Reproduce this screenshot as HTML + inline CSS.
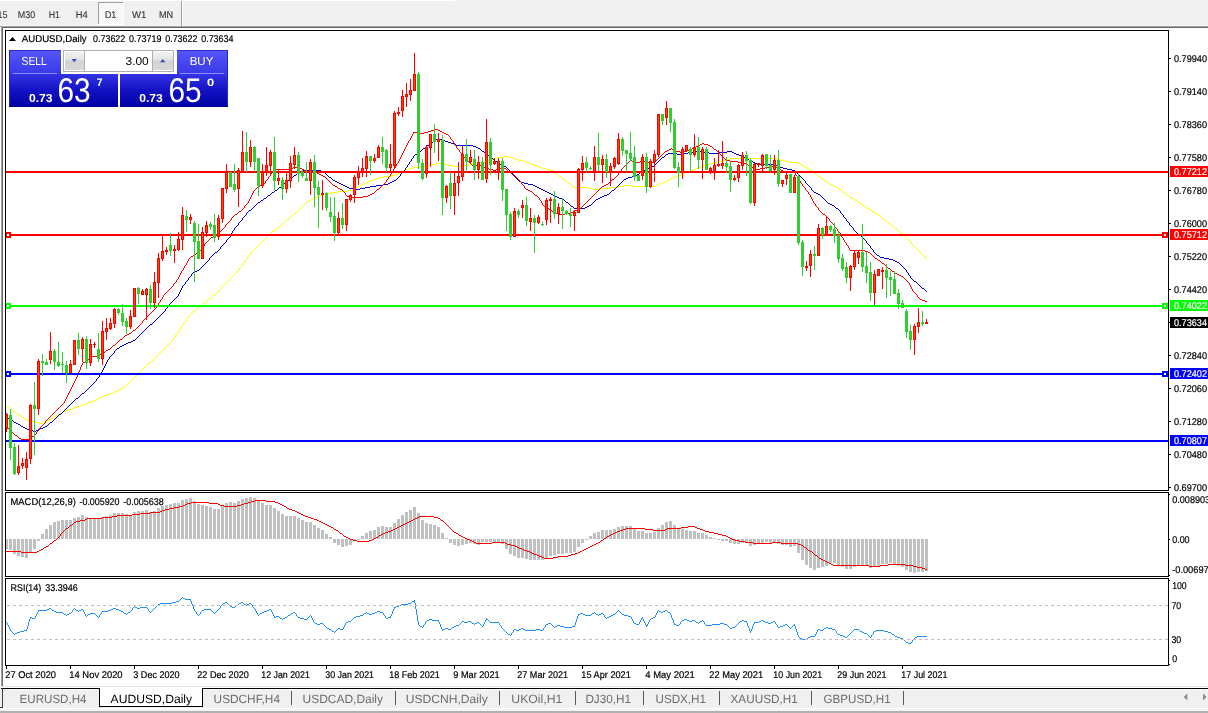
<!DOCTYPE html>
<html lang="en"><head><meta charset="utf-8"><title>AUDUSD,Daily</title>
<style>
html,body{margin:0;padding:0;}
body{width:1208px;height:713px;overflow:hidden;background:#f0f0f0;font-family:"Liberation Sans",sans-serif;position:relative;}
#toolbar{position:absolute;left:0;top:0;width:1208px;height:26px;background:#f0f0f0;}
#mdi{position:absolute;left:0;top:26px;width:1208px;height:662px;background:#fff;}
#tabs{position:absolute;left:0;top:688px;width:1208px;height:25px;background:#f0f0f0;}
#ui{position:absolute;left:0;top:0;width:1208px;height:713px;}
#ui text{font-family:"Liberation Sans",sans-serif;text-rendering:geometricPrecision;}
</style></head><body>
<div id="toolbar"></div>
<div id="mdi"></div>
<div id="tabs"></div>
<svg id="ui" width="1208" height="713" viewBox="0 0 1208 713">
<defs>
<linearGradient id="gb" x1="0" y1="0" x2="0" y2="1"><stop offset="0" stop-color="#5656fc"/><stop offset="1" stop-color="#3838e6"/></linearGradient>
<linearGradient id="gp" x1="0" y1="0" x2="0" y2="1"><stop offset="0" stop-color="#3434e4"/><stop offset="0.5" stop-color="#1212c4"/><stop offset="1" stop-color="#0000a4"/></linearGradient>
<linearGradient id="gs" x1="0" y1="0" x2="0" y2="1"><stop offset="0" stop-color="#f2f2f2"/><stop offset="0.45" stop-color="#e2e2e2"/><stop offset="0.5" stop-color="#d2d2d2"/><stop offset="1" stop-color="#d8d8d8"/></linearGradient>
<pattern id="chk" width="2" height="2" patternUnits="userSpaceOnUse"><rect width="2" height="2" fill="#fff"/><rect width="1" height="1" fill="#f0f0f0"/><rect x="1" y="1" width="1" height="1" fill="#f0f0f0"/></pattern>
</defs>
<g id="tb" shape-rendering="crispEdges"><rect x="0" y="0" width="455" height="1" fill="#fff"/><rect x="0" y="25" width="1208" height="1" fill="#f7f7f7"/><rect x="98" y="2" width="25" height="22" fill="url(#chk)"/><rect x="98" y="2" width="25" height="1" fill="#a0a0a0"/><rect x="98" y="2" width="1" height="22" fill="#a0a0a0"/><rect x="123" y="2" width="1" height="23" fill="#fff"/><rect x="98" y="24" width="26" height="1" fill="#fff"/><rect x="181" y="1" width="1" height="25" fill="#a0a0a0"/><rect x="182" y="1" width="1" height="25" fill="#fff"/></g>
<g id="tbt" stroke="#3a3a3a" stroke-width="0.15"><text x="-10" y="18" font-size="9.8" fill="#3a3a3a" textLength="17.6" lengthAdjust="spacingAndGlyphs">M15</text><text x="17.8" y="18" font-size="9.8" fill="#3a3a3a" textLength="17.4" lengthAdjust="spacingAndGlyphs">M30</text><text x="48.8" y="18" font-size="9.8" fill="#3a3a3a" textLength="11.2" lengthAdjust="spacingAndGlyphs">H1</text><text x="75.7" y="18" font-size="9.8" fill="#3a3a3a" textLength="12" lengthAdjust="spacingAndGlyphs">H4</text><text x="104.9" y="18" font-size="9.8" fill="#3a3a3a" textLength="11.4" lengthAdjust="spacingAndGlyphs">D1</text><text x="132" y="18" font-size="9.8" fill="#3a3a3a" textLength="14.3" lengthAdjust="spacingAndGlyphs">W1</text><text x="158.9" y="18" font-size="9.8" fill="#3a3a3a" textLength="14.3" lengthAdjust="spacingAndGlyphs">MN</text></g>
<g id="frame" shape-rendering="crispEdges"><rect x="0" y="26" width="1208" height="1" fill="#a0a0a0"/><rect x="1" y="27" width="1207" height="1" fill="#696969"/><rect x="0" y="27" width="1" height="660" fill="#fff"/><rect x="1" y="27" width="1" height="659" fill="#a0a0a0"/><rect x="2" y="28" width="1" height="658" fill="#696969"/><rect x="0" y="686" width="1208" height="1" fill="#e6e6e6"/><rect x="0" y="687" width="1208" height="1" fill="#fff"/></g>
<g shape-rendering="crispEdges"><rect x="6" y="539" width="2" height="10" fill="#c0c0c0"/><rect x="9" y="539" width="3" height="11" fill="#c0c0c0"/><rect x="13" y="539" width="3" height="15" fill="#c0c0c0"/><rect x="17" y="539" width="3" height="17" fill="#c0c0c0"/><rect x="21" y="539" width="3" height="18" fill="#c0c0c0"/><rect x="25" y="539" width="3" height="19" fill="#c0c0c0"/><rect x="29" y="539" width="3" height="13" fill="#c0c0c0"/><rect x="33" y="539" width="3" height="10" fill="#c0c0c0"/><rect x="37" y="539" width="3" height="2" fill="#c0c0c0"/><rect x="41" y="534" width="3" height="5" fill="#c0c0c0"/><rect x="45" y="529" width="3" height="10" fill="#c0c0c0"/><rect x="49" y="525" width="3" height="14" fill="#c0c0c0"/><rect x="53" y="522" width="3" height="17" fill="#c0c0c0"/><rect x="57" y="521" width="3" height="18" fill="#c0c0c0"/><rect x="61" y="520" width="3" height="19" fill="#c0c0c0"/><rect x="65" y="520" width="3" height="19" fill="#c0c0c0"/><rect x="69" y="520" width="3" height="19" fill="#c0c0c0"/><rect x="73" y="518" width="3" height="21" fill="#c0c0c0"/><rect x="77" y="517" width="3" height="22" fill="#c0c0c0"/><rect x="81" y="515" width="3" height="24" fill="#c0c0c0"/><rect x="85" y="517" width="3" height="22" fill="#c0c0c0"/><rect x="89" y="518" width="3" height="21" fill="#c0c0c0"/><rect x="93" y="518" width="3" height="21" fill="#c0c0c0"/><rect x="97" y="518" width="3" height="21" fill="#c0c0c0"/><rect x="101" y="517" width="3" height="22" fill="#c0c0c0"/><rect x="105" y="516" width="3" height="23" fill="#c0c0c0"/><rect x="109" y="515" width="3" height="24" fill="#c0c0c0"/><rect x="113" y="513" width="3" height="26" fill="#c0c0c0"/><rect x="117" y="513" width="3" height="26" fill="#c0c0c0"/><rect x="121" y="513" width="3" height="26" fill="#c0c0c0"/><rect x="125" y="514" width="3" height="25" fill="#c0c0c0"/><rect x="129" y="515" width="3" height="24" fill="#c0c0c0"/><rect x="133" y="512" width="3" height="27" fill="#c0c0c0"/><rect x="137" y="511" width="3" height="28" fill="#c0c0c0"/><rect x="141" y="511" width="3" height="28" fill="#c0c0c0"/><rect x="145" y="510" width="3" height="29" fill="#c0c0c0"/><rect x="149" y="512" width="3" height="27" fill="#c0c0c0"/><rect x="153" y="511" width="3" height="28" fill="#c0c0c0"/><rect x="157" y="508" width="3" height="31" fill="#c0c0c0"/><rect x="161" y="506" width="3" height="33" fill="#c0c0c0"/><rect x="165" y="505" width="3" height="34" fill="#c0c0c0"/><rect x="169" y="504" width="3" height="35" fill="#c0c0c0"/><rect x="173" y="503" width="3" height="36" fill="#c0c0c0"/><rect x="177" y="503" width="3" height="36" fill="#c0c0c0"/><rect x="181" y="500" width="3" height="39" fill="#c0c0c0"/><rect x="185" y="499" width="3" height="40" fill="#c0c0c0"/><rect x="189" y="498" width="3" height="41" fill="#c0c0c0"/><rect x="193" y="501" width="3" height="38" fill="#c0c0c0"/><rect x="197" y="504" width="3" height="35" fill="#c0c0c0"/><rect x="201" y="505" width="3" height="34" fill="#c0c0c0"/><rect x="205" y="506" width="3" height="33" fill="#c0c0c0"/><rect x="209" y="507" width="3" height="32" fill="#c0c0c0"/><rect x="213" y="509" width="3" height="30" fill="#c0c0c0"/><rect x="217" y="509" width="3" height="30" fill="#c0c0c0"/><rect x="221" y="506" width="3" height="33" fill="#c0c0c0"/><rect x="225" y="503" width="3" height="36" fill="#c0c0c0"/><rect x="229" y="502" width="3" height="37" fill="#c0c0c0"/><rect x="233" y="503" width="3" height="36" fill="#c0c0c0"/><rect x="237" y="501" width="3" height="38" fill="#c0c0c0"/><rect x="241" y="499" width="3" height="40" fill="#c0c0c0"/><rect x="245" y="498" width="3" height="41" fill="#c0c0c0"/><rect x="249" y="497" width="3" height="42" fill="#c0c0c0"/><rect x="253" y="498" width="3" height="41" fill="#c0c0c0"/><rect x="257" y="500" width="3" height="39" fill="#c0c0c0"/><rect x="261" y="503" width="3" height="36" fill="#c0c0c0"/><rect x="265" y="505" width="3" height="34" fill="#c0c0c0"/><rect x="269" y="505" width="3" height="34" fill="#c0c0c0"/><rect x="273" y="508" width="3" height="31" fill="#c0c0c0"/><rect x="277" y="511" width="3" height="28" fill="#c0c0c0"/><rect x="281" y="514" width="3" height="25" fill="#c0c0c0"/><rect x="285" y="516" width="3" height="23" fill="#c0c0c0"/><rect x="289" y="516" width="3" height="23" fill="#c0c0c0"/><rect x="293" y="516" width="3" height="23" fill="#c0c0c0"/><rect x="297" y="518" width="3" height="21" fill="#c0c0c0"/><rect x="301" y="520" width="3" height="19" fill="#c0c0c0"/><rect x="305" y="522" width="3" height="17" fill="#c0c0c0"/><rect x="309" y="522" width="3" height="17" fill="#c0c0c0"/><rect x="313" y="525" width="3" height="14" fill="#c0c0c0"/><rect x="317" y="528" width="3" height="11" fill="#c0c0c0"/><rect x="321" y="530" width="3" height="9" fill="#c0c0c0"/><rect x="325" y="534" width="3" height="5" fill="#c0c0c0"/><rect x="329" y="537" width="3" height="2" fill="#c0c0c0"/><rect x="333" y="539" width="3" height="4" fill="#c0c0c0"/><rect x="337" y="539" width="3" height="6" fill="#c0c0c0"/><rect x="341" y="539" width="3" height="8" fill="#c0c0c0"/><rect x="345" y="539" width="3" height="7" fill="#c0c0c0"/><rect x="349" y="539" width="3" height="6" fill="#c0c0c0"/><rect x="353" y="539" width="3" height="2" fill="#c0c0c0"/><rect x="357" y="539" width="3" height="1" fill="#c0c0c0"/><rect x="361" y="536" width="3" height="3" fill="#c0c0c0"/><rect x="365" y="533" width="3" height="6" fill="#c0c0c0"/><rect x="369" y="531" width="3" height="8" fill="#c0c0c0"/><rect x="373" y="530" width="3" height="9" fill="#c0c0c0"/><rect x="377" y="527" width="3" height="12" fill="#c0c0c0"/><rect x="381" y="526" width="3" height="13" fill="#c0c0c0"/><rect x="385" y="527" width="3" height="12" fill="#c0c0c0"/><rect x="389" y="527" width="3" height="12" fill="#c0c0c0"/><rect x="393" y="523" width="3" height="16" fill="#c0c0c0"/><rect x="397" y="519" width="3" height="20" fill="#c0c0c0"/><rect x="401" y="515" width="3" height="24" fill="#c0c0c0"/><rect x="405" y="512" width="3" height="27" fill="#c0c0c0"/><rect x="409" y="510" width="3" height="29" fill="#c0c0c0"/><rect x="413" y="507" width="3" height="32" fill="#c0c0c0"/><rect x="417" y="513" width="3" height="26" fill="#c0c0c0"/><rect x="421" y="520" width="3" height="19" fill="#c0c0c0"/><rect x="425" y="523" width="3" height="16" fill="#c0c0c0"/><rect x="429" y="524" width="3" height="15" fill="#c0c0c0"/><rect x="433" y="525" width="3" height="14" fill="#c0c0c0"/><rect x="437" y="527" width="3" height="12" fill="#c0c0c0"/><rect x="441" y="533" width="3" height="6" fill="#c0c0c0"/><rect x="445" y="538" width="3" height="1" fill="#c0c0c0"/><rect x="449" y="539" width="3" height="4" fill="#c0c0c0"/><rect x="453" y="539" width="3" height="6" fill="#c0c0c0"/><rect x="457" y="539" width="3" height="7" fill="#c0c0c0"/><rect x="461" y="539" width="3" height="6" fill="#c0c0c0"/><rect x="465" y="539" width="3" height="5" fill="#c0c0c0"/><rect x="469" y="539" width="3" height="4" fill="#c0c0c0"/><rect x="473" y="539" width="3" height="5" fill="#c0c0c0"/><rect x="477" y="539" width="3" height="6" fill="#c0c0c0"/><rect x="481" y="539" width="3" height="3" fill="#c0c0c0"/><rect x="485" y="539" width="3" height="3" fill="#c0c0c0"/><rect x="489" y="539" width="3" height="3" fill="#c0c0c0"/><rect x="493" y="539" width="3" height="3" fill="#c0c0c0"/><rect x="497" y="539" width="3" height="3" fill="#c0c0c0"/><rect x="501" y="539" width="3" height="5" fill="#c0c0c0"/><rect x="505" y="539" width="3" height="10" fill="#c0c0c0"/><rect x="509" y="539" width="3" height="15" fill="#c0c0c0"/><rect x="513" y="539" width="3" height="17" fill="#c0c0c0"/><rect x="517" y="539" width="3" height="19" fill="#c0c0c0"/><rect x="521" y="539" width="3" height="19" fill="#c0c0c0"/><rect x="525" y="539" width="3" height="20" fill="#c0c0c0"/><rect x="529" y="539" width="3" height="21" fill="#c0c0c0"/><rect x="533" y="539" width="3" height="21" fill="#c0c0c0"/><rect x="537" y="539" width="3" height="21" fill="#c0c0c0"/><rect x="541" y="539" width="3" height="21" fill="#c0c0c0"/><rect x="545" y="539" width="3" height="20" fill="#c0c0c0"/><rect x="549" y="539" width="3" height="17" fill="#c0c0c0"/><rect x="553" y="539" width="3" height="16" fill="#c0c0c0"/><rect x="557" y="539" width="3" height="15" fill="#c0c0c0"/><rect x="561" y="539" width="3" height="15" fill="#c0c0c0"/><rect x="565" y="539" width="3" height="14" fill="#c0c0c0"/><rect x="569" y="539" width="3" height="14" fill="#c0c0c0"/><rect x="573" y="539" width="3" height="13" fill="#c0c0c0"/><rect x="577" y="539" width="3" height="8" fill="#c0c0c0"/><rect x="581" y="539" width="3" height="4" fill="#c0c0c0"/><rect x="585" y="539" width="3" height="1" fill="#c0c0c0"/><rect x="589" y="536" width="3" height="3" fill="#c0c0c0"/><rect x="593" y="533" width="3" height="6" fill="#c0c0c0"/><rect x="597" y="532" width="3" height="7" fill="#c0c0c0"/><rect x="601" y="530" width="3" height="9" fill="#c0c0c0"/><rect x="605" y="530" width="3" height="9" fill="#c0c0c0"/><rect x="609" y="530" width="3" height="9" fill="#c0c0c0"/><rect x="613" y="529" width="3" height="10" fill="#c0c0c0"/><rect x="617" y="527" width="3" height="12" fill="#c0c0c0"/><rect x="621" y="526" width="3" height="13" fill="#c0c0c0"/><rect x="625" y="526" width="3" height="13" fill="#c0c0c0"/><rect x="629" y="526" width="3" height="13" fill="#c0c0c0"/><rect x="633" y="529" width="3" height="10" fill="#c0c0c0"/><rect x="637" y="531" width="3" height="8" fill="#c0c0c0"/><rect x="641" y="531" width="3" height="8" fill="#c0c0c0"/><rect x="645" y="533" width="3" height="6" fill="#c0c0c0"/><rect x="649" y="533" width="3" height="6" fill="#c0c0c0"/><rect x="653" y="532" width="3" height="7" fill="#c0c0c0"/><rect x="657" y="528" width="3" height="11" fill="#c0c0c0"/><rect x="661" y="525" width="3" height="14" fill="#c0c0c0"/><rect x="665" y="522" width="3" height="17" fill="#c0c0c0"/><rect x="669" y="521" width="3" height="18" fill="#c0c0c0"/><rect x="673" y="525" width="3" height="14" fill="#c0c0c0"/><rect x="677" y="528" width="3" height="11" fill="#c0c0c0"/><rect x="681" y="529" width="3" height="10" fill="#c0c0c0"/><rect x="685" y="530" width="3" height="9" fill="#c0c0c0"/><rect x="689" y="531" width="3" height="8" fill="#c0c0c0"/><rect x="693" y="531" width="3" height="8" fill="#c0c0c0"/><rect x="697" y="533" width="3" height="6" fill="#c0c0c0"/><rect x="701" y="533" width="3" height="6" fill="#c0c0c0"/><rect x="705" y="535" width="3" height="4" fill="#c0c0c0"/><rect x="709" y="537" width="3" height="2" fill="#c0c0c0"/><rect x="713" y="538" width="3" height="1" fill="#c0c0c0"/><rect x="717" y="539" width="3" height="1" fill="#c0c0c0"/><rect x="721" y="539" width="3" height="2" fill="#c0c0c0"/><rect x="725" y="539" width="3" height="2" fill="#c0c0c0"/><rect x="729" y="539" width="3" height="4" fill="#c0c0c0"/><rect x="733" y="539" width="3" height="5" fill="#c0c0c0"/><rect x="737" y="539" width="3" height="5" fill="#c0c0c0"/><rect x="741" y="539" width="3" height="4" fill="#c0c0c0"/><rect x="745" y="539" width="3" height="3" fill="#c0c0c0"/><rect x="749" y="539" width="3" height="7" fill="#c0c0c0"/><rect x="753" y="539" width="3" height="6" fill="#c0c0c0"/><rect x="757" y="539" width="3" height="4" fill="#c0c0c0"/><rect x="761" y="539" width="3" height="4" fill="#c0c0c0"/><rect x="765" y="539" width="3" height="3" fill="#c0c0c0"/><rect x="769" y="539" width="3" height="4" fill="#c0c0c0"/><rect x="773" y="539" width="3" height="4" fill="#c0c0c0"/><rect x="777" y="539" width="3" height="5" fill="#c0c0c0"/><rect x="781" y="539" width="3" height="6" fill="#c0c0c0"/><rect x="785" y="539" width="3" height="6" fill="#c0c0c0"/><rect x="789" y="539" width="3" height="8" fill="#c0c0c0"/><rect x="793" y="539" width="3" height="7" fill="#c0c0c0"/><rect x="797" y="539" width="3" height="14" fill="#c0c0c0"/><rect x="801" y="539" width="3" height="21" fill="#c0c0c0"/><rect x="805" y="539" width="3" height="26" fill="#c0c0c0"/><rect x="809" y="539" width="3" height="29" fill="#c0c0c0"/><rect x="813" y="539" width="3" height="31" fill="#c0c0c0"/><rect x="817" y="539" width="3" height="29" fill="#c0c0c0"/><rect x="821" y="539" width="3" height="28" fill="#c0c0c0"/><rect x="825" y="539" width="3" height="27" fill="#c0c0c0"/><rect x="829" y="539" width="3" height="24" fill="#c0c0c0"/><rect x="833" y="539" width="3" height="24" fill="#c0c0c0"/><rect x="837" y="539" width="3" height="27" fill="#c0c0c0"/><rect x="841" y="539" width="3" height="28" fill="#c0c0c0"/><rect x="845" y="539" width="3" height="30" fill="#c0c0c0"/><rect x="849" y="539" width="3" height="30" fill="#c0c0c0"/><rect x="853" y="539" width="3" height="28" fill="#c0c0c0"/><rect x="857" y="539" width="3" height="27" fill="#c0c0c0"/><rect x="861" y="539" width="3" height="27" fill="#c0c0c0"/><rect x="865" y="539" width="3" height="27" fill="#c0c0c0"/><rect x="869" y="539" width="3" height="29" fill="#c0c0c0"/><rect x="873" y="539" width="3" height="28" fill="#c0c0c0"/><rect x="877" y="539" width="3" height="28" fill="#c0c0c0"/><rect x="881" y="539" width="3" height="25" fill="#c0c0c0"/><rect x="885" y="539" width="3" height="25" fill="#c0c0c0"/><rect x="889" y="539" width="3" height="24" fill="#c0c0c0"/><rect x="893" y="539" width="3" height="25" fill="#c0c0c0"/><rect x="897" y="539" width="3" height="27" fill="#c0c0c0"/><rect x="901" y="539" width="3" height="28" fill="#c0c0c0"/><rect x="905" y="539" width="3" height="31" fill="#c0c0c0"/><rect x="909" y="539" width="3" height="33" fill="#c0c0c0"/><rect x="913" y="539" width="3" height="34" fill="#c0c0c0"/><rect x="917" y="539" width="3" height="33" fill="#c0c0c0"/><rect x="921" y="539" width="3" height="33" fill="#c0c0c0"/><rect x="925" y="539" width="3" height="32" fill="#c0c0c0"/></g>
<path d="M504 156.5h5M497 157.5h7M509 157.5h4M493 158.5h4M513 158.5h3M730 158.5h47M490 159.5h3M516 159.5h3M726 159.5h4M777 159.5h4M488 160.5h2M519 160.5h4M722 160.5h4M781 160.5h4M485 161.5h3M523 161.5h3M718 161.5h4M785 161.5h4M473 162.5h12M526 162.5h3M714 162.5h4M789 162.5h9M436 163.5h6M471 163.5h2M529 163.5h2M710 163.5h4M798 163.5h2M431 164.5h5M442 164.5h5M469 164.5h2M531 164.5h3M707 164.5h3M800 164.5h2M427 165.5h4M447 165.5h7M463 165.5h6M534 165.5h3M704 165.5h3M802 165.5h2M419 166.5h8M454 166.5h9M537 166.5h2M701 166.5h3M804 166.5h1M413 167.5h6M539 167.5h3M699 167.5h2M805 167.5h2M409 168.5h4M542 168.5h4M696 168.5h3M807 168.5h1M406 169.5h3M546 169.5h4M694 169.5h2M808 169.5h2M404 170.5h2M550 170.5h3M691 170.5h3M810 170.5h2M402 171.5h2M553 171.5h1M688 171.5h3M812 171.5h1M400 172.5h2M554 172.5h2M686 172.5h2M813 172.5h1M398 173.5h2M556 173.5h1M683 173.5h3M814 173.5h2M395 174.5h3M557 174.5h1M681 174.5h2M816 174.5h1M391 175.5h4M558 175.5h1M678 175.5h3M817 175.5h1M384 176.5h7M559 176.5h2M676 176.5h2M818 176.5h2M379 177.5h5M561 177.5h1M673 177.5h3M820 177.5h1M376 178.5h3M562 178.5h1M671 178.5h2M821 178.5h2M373 179.5h3M563 179.5h2M669 179.5h2M823 179.5h1M370 180.5h3M565 180.5h1M667 180.5h2M824 180.5h2M368 181.5h2M566 181.5h1M665 181.5h2M826 181.5h1M366 182.5h2M567 182.5h1M662 182.5h3M827 182.5h2M364 183.5h2M568 183.5h2M660 183.5h2M829 183.5h1M362 184.5h2M570 184.5h1M658 184.5h2M830 184.5h2M360 185.5h2M571 185.5h1M624 185.5h7M656 185.5h2M832 185.5h2M358 186.5h2M572 186.5h2M618 186.5h6M631 186.5h25M834 186.5h2M356 187.5h2M574 187.5h15M610 187.5h8M836 187.5h2M355 188.5h1M589 188.5h4M599 188.5h11M838 188.5h1M353 189.5h2M593 189.5h6M839 189.5h2M348 190.5h5M841 190.5h1M338 191.5h10M842 191.5h1M330 192.5h8M843 192.5h2M326 193.5h4M845 193.5h1M323 194.5h3M846 194.5h1M320 195.5h3M847 195.5h2M318 196.5h2M849 196.5h1M315 197.5h3M850 197.5h2M313 198.5h2M852 198.5h2M311 199.5h2M854 199.5h1M309 200.5h2M855 200.5h2M307 201.5h2M857 201.5h1M306 202.5h1M858 202.5h2M305 203.5h1M860 203.5h1M304 204.5h1M861 204.5h2M303 205.5h1M863 205.5h1M302 206.5h1M864 206.5h2M301 207.5h1M866 207.5h1M300 208.5h1M867 208.5h2M299 209.5h1M869 209.5h2M298 210.5h1M871 210.5h1M297 211.5h1M872 211.5h2M296 212.5h1M874 212.5h1M294 213.5h2M875 213.5h2M293 214.5h1M877 214.5h2M292 215.5h1M879 215.5h1M291 216.5h1M880 216.5h1M290 217.5h1M881 217.5h1M289 218.5h1M882 218.5h2M287 219.5h2M884 219.5h1M286 220.5h1M885 220.5h1M285 221.5h1M886 221.5h1M284 222.5h1M887 222.5h2M283 223.5h1M889 223.5h1M282 224.5h1M890 224.5h1M281 225.5h1M891 225.5h2M279 226.5h2M893 226.5h1M278 227.5h1M894 227.5h1M277 228.5h1M895 228.5h2M276 229.5h1M897 229.5h1M274 230.5h2M898 230.5h1M272 231.5h2M899 231.5h1M271 232.5h1M900 232.5h1M270 233.5h1M901 233.5h2M269 234.5h1M903 234.5h1M268 235.5h1M904 235.5h1M267 236.5h1M905 236.5h1M266 237.5h1M906 237.5h1M265 238.5h1M907 238.5h1M264 239.5h1M908 239.5h1M263 240.5h1M909 240.5h1M262 241.5h1M910 241.5h1M261 242.5h1M911 242.5h1M260 243.5h1M911 243.5h1M259 244.5h1M912 244.5h1M258 245.5h1M913 245.5h1M257 246.5h1M914 246.5h1M256 247.5h1M915 247.5h1M255 248.5h1M916 248.5h1M254 249.5h1M917 249.5h1M253 250.5h1M918 250.5h1M252 251.5h1M919 251.5h1M251 252.5h1M920 252.5h1M250 253.5h1M921 253.5h1M250 254.5h1M922 254.5h1M249 255.5h1M923 255.5h1M248 256.5h1M924 256.5h1M247 257.5h1M925 257.5h1M247 258.5h1M926 258.5h1M246 259.5h1M245 260.5h1M244 261.5h1M244 262.5h1M243 263.5h1M242 264.5h1M242 265.5h1M241 266.5h1M240 267.5h1M239 268.5h1M239 269.5h1M238 270.5h1M237 271.5h1M236 272.5h1M235 273.5h1M234 274.5h1M233 275.5h1M232 276.5h1M231 277.5h1M230 278.5h1M229 279.5h1M228 280.5h1M227 281.5h1M226 282.5h1M225 283.5h1M224 284.5h1M223 285.5h1M222 286.5h1M221 287.5h1M221 288.5h1M220 289.5h1M219 290.5h1M218 291.5h1M217 292.5h1M216 293.5h1M214 294.5h2M213 295.5h1M212 296.5h1M211 297.5h1M209 298.5h2M208 299.5h1M207 300.5h1M206 301.5h1M204 302.5h2M203 303.5h1M202 304.5h1M201 305.5h1M199 306.5h2M198 307.5h1M197 308.5h1M196 309.5h1M195 310.5h1M193 311.5h2M192 312.5h1M191 313.5h1M190 314.5h1M189 315.5h1M188 316.5h1M188 317.5h1M187 318.5h1M186 319.5h1M186 320.5h1M185 321.5h1M184 322.5h1M183 323.5h1M183 324.5h1M182 325.5h1M181 326.5h1M181 327.5h1M180 328.5h1M179 329.5h1M179 330.5h1M178 331.5h1M177 332.5h1M177 333.5h1M176 334.5h1M175 335.5h1M175 336.5h1M174 337.5h1M173 338.5h1M173 339.5h1M172 340.5h1M171 341.5h1M170 342.5h1M169 343.5h1M168 344.5h1M167 345.5h1M166 346.5h1M165 347.5h1M164 348.5h1M163 349.5h1M162 350.5h1M161 351.5h1M160 352.5h1M159 353.5h1M158 354.5h1M157 355.5h1M156 356.5h1M155 357.5h1M154 358.5h1M153 359.5h1M152 360.5h1M151 361.5h1M150 362.5h1M148 363.5h2M147 364.5h1M146 365.5h1M145 366.5h1M144 367.5h1M143 368.5h1M142 369.5h1M141 370.5h1M140 371.5h1M139 372.5h1M138 373.5h1M137 374.5h1M136 375.5h1M135 376.5h1M134 377.5h1M133 378.5h1M132 379.5h1M131 380.5h1M130 381.5h1M129 382.5h1M128 383.5h1M127 384.5h1M126 385.5h1M125 386.5h1M123 387.5h2M121 388.5h2M119 389.5h2M117 390.5h2M115 391.5h2M113 392.5h2M110 393.5h3M107 394.5h3M104 395.5h3M102 396.5h2M100 397.5h2M98 398.5h2M96 399.5h2M94 400.5h2M91 401.5h3M88 402.5h3M86 403.5h2M83 404.5h3M80 405.5h3M6 406.5h1M77 406.5h3M7 407.5h2M74 407.5h3M9 408.5h1M72 408.5h2M10 409.5h2M69 409.5h3M12 410.5h1M66 410.5h3M13 411.5h2M64 411.5h2M15 412.5h1M62 412.5h2M16 413.5h2M60 413.5h2M18 414.5h1M58 414.5h2M19 415.5h2M56 415.5h2M21 416.5h1M54 416.5h2M22 417.5h2M53 417.5h1M24 418.5h1M51 418.5h2M25 419.5h2M49 419.5h2M27 420.5h3M47 420.5h2M30 421.5h5M45 421.5h2M35 422.5h5M43 422.5h2M40 423.5h3" fill="none" stroke="#ffff00" stroke-width="1" shape-rendering="crispEdges"/>
<path d="M436 139.5h7M434 140.5h2M443 140.5h2M433 141.5h1M445 141.5h3M432 142.5h1M448 142.5h3M430 143.5h2M451 143.5h3M429 144.5h1M454 144.5h2M427 145.5h2M456 145.5h17M426 146.5h1M473 146.5h3M425 147.5h1M476 147.5h2M423 148.5h2M478 148.5h2M422 149.5h1M480 149.5h1M421 150.5h1M481 150.5h1M419 151.5h2M482 151.5h2M694 151.5h8M727 151.5h5M418 152.5h1M484 152.5h1M688 152.5h6M702 152.5h7M718 152.5h9M732 152.5h2M417 153.5h1M485 153.5h1M668 153.5h9M683 153.5h5M709 153.5h9M734 153.5h2M415 154.5h2M486 154.5h2M666 154.5h2M677 154.5h6M736 154.5h3M414 155.5h1M488 155.5h1M665 155.5h1M739 155.5h3M413 156.5h1M489 156.5h1M664 156.5h1M742 156.5h2M413 157.5h1M490 157.5h2M662 157.5h2M744 157.5h2M412 158.5h1M492 158.5h1M661 158.5h1M746 158.5h1M411 159.5h1M493 159.5h1M660 159.5h1M747 159.5h2M411 160.5h1M494 160.5h1M659 160.5h1M749 160.5h2M410 161.5h1M495 161.5h2M658 161.5h1M751 161.5h2M409 162.5h1M497 162.5h1M657 162.5h1M753 162.5h2M409 163.5h1M498 163.5h1M656 163.5h1M755 163.5h5M408 164.5h1M499 164.5h2M655 164.5h1M760 164.5h13M407 165.5h1M501 165.5h3M654 165.5h1M773 165.5h4M407 166.5h1M504 166.5h2M652 166.5h2M777 166.5h3M406 167.5h1M506 167.5h1M650 167.5h2M780 167.5h3M405 168.5h1M507 168.5h1M648 168.5h2M783 168.5h4M405 169.5h1M508 169.5h1M646 169.5h2M787 169.5h5M303 170.5h18M404 170.5h1M509 170.5h1M644 170.5h2M792 170.5h3M301 171.5h2M321 171.5h2M403 171.5h1M510 171.5h1M642 171.5h2M795 171.5h1M299 172.5h2M323 172.5h2M402 172.5h1M511 172.5h1M640 172.5h2M796 172.5h1M297 173.5h2M325 173.5h1M401 173.5h1M512 173.5h1M639 173.5h1M797 173.5h1M296 174.5h1M326 174.5h1M400 174.5h1M513 174.5h1M637 174.5h2M798 174.5h1M294 175.5h2M327 175.5h1M400 175.5h1M514 175.5h1M636 175.5h1M799 175.5h1M293 176.5h1M328 176.5h1M399 176.5h1M515 176.5h1M632 176.5h4M800 176.5h1M292 177.5h1M329 177.5h2M398 177.5h1M515 177.5h1M628 177.5h4M801 177.5h1M290 178.5h2M331 178.5h1M397 178.5h1M516 178.5h1M626 178.5h2M802 178.5h1M289 179.5h1M332 179.5h1M396 179.5h1M517 179.5h1M624 179.5h2M803 179.5h1M288 180.5h1M333 180.5h2M394 180.5h2M518 180.5h1M623 180.5h1M804 180.5h1M287 181.5h1M335 181.5h2M392 181.5h2M519 181.5h2M622 181.5h1M805 181.5h1M286 182.5h1M337 182.5h2M390 182.5h2M521 182.5h3M621 182.5h1M805 182.5h1M284 183.5h2M339 183.5h2M388 183.5h2M524 183.5h4M620 183.5h1M806 183.5h1M283 184.5h1M341 184.5h2M383 184.5h5M528 184.5h5M619 184.5h1M807 184.5h1M282 185.5h1M343 185.5h2M376 185.5h7M533 185.5h2M618 185.5h1M808 185.5h1M281 186.5h1M345 186.5h2M370 186.5h6M535 186.5h2M617 186.5h1M809 186.5h1M279 187.5h2M347 187.5h2M365 187.5h5M537 187.5h2M616 187.5h1M810 187.5h1M278 188.5h1M349 188.5h5M360 188.5h5M539 188.5h2M615 188.5h1M811 188.5h1M277 189.5h1M354 189.5h6M541 189.5h2M614 189.5h1M811 189.5h1M275 190.5h2M543 190.5h2M612 190.5h2M812 190.5h1M274 191.5h1M545 191.5h2M611 191.5h1M813 191.5h1M272 192.5h2M547 192.5h2M610 192.5h1M814 192.5h2M271 193.5h1M549 193.5h2M609 193.5h1M816 193.5h2M270 194.5h1M551 194.5h2M607 194.5h2M818 194.5h2M268 195.5h2M553 195.5h2M604 195.5h3M820 195.5h1M267 196.5h1M555 196.5h2M602 196.5h2M821 196.5h1M266 197.5h1M557 197.5h2M600 197.5h2M822 197.5h1M264 198.5h2M559 198.5h3M598 198.5h2M823 198.5h1M263 199.5h1M562 199.5h2M596 199.5h2M824 199.5h1M261 200.5h2M564 200.5h1M595 200.5h1M825 200.5h1M260 201.5h1M565 201.5h1M594 201.5h1M826 201.5h1M258 202.5h2M566 202.5h2M593 202.5h1M827 202.5h1M257 203.5h1M568 203.5h1M592 203.5h1M828 203.5h2M256 204.5h1M569 204.5h1M591 204.5h1M830 204.5h2M255 205.5h1M570 205.5h1M589 205.5h2M832 205.5h2M254 206.5h1M571 206.5h2M587 206.5h2M834 206.5h1M253 207.5h1M573 207.5h1M585 207.5h2M835 207.5h1M252 208.5h1M574 208.5h11M836 208.5h2M251 209.5h1M838 209.5h1M249 210.5h2M839 210.5h1M248 211.5h1M840 211.5h1M247 212.5h1M840 212.5h1M246 213.5h1M841 213.5h1M246 214.5h1M842 214.5h1M245 215.5h1M843 215.5h1M244 216.5h1M843 216.5h1M243 217.5h1M844 217.5h1M242 218.5h1M845 218.5h1M242 219.5h1M846 219.5h1M241 220.5h1M846 220.5h1M240 221.5h1M847 221.5h1M239 222.5h1M848 222.5h1M238 223.5h1M849 223.5h1M238 224.5h1M849 224.5h1M237 225.5h1M850 225.5h1M236 226.5h1M851 226.5h1M235 227.5h1M852 227.5h1M234 228.5h1M853 228.5h1M234 229.5h1M853 229.5h1M233 230.5h1M854 230.5h1M232 231.5h1M855 231.5h1M232 232.5h1M856 232.5h1M231 233.5h1M857 233.5h1M231 234.5h1M858 234.5h1M230 235.5h1M859 235.5h2M230 236.5h1M861 236.5h1M229 237.5h1M862 237.5h1M228 238.5h1M863 238.5h1M227 239.5h1M864 239.5h1M226 240.5h1M865 240.5h1M226 241.5h1M866 241.5h1M225 242.5h1M866 242.5h1M224 243.5h1M867 243.5h1M223 244.5h1M868 244.5h1M222 245.5h1M869 245.5h1M221 246.5h1M870 246.5h1M220 247.5h1M870 247.5h1M220 248.5h1M871 248.5h1M219 249.5h1M872 249.5h1M218 250.5h1M873 250.5h1M217 251.5h1M873 251.5h1M215 252.5h2M874 252.5h1M214 253.5h1M875 253.5h1M213 254.5h1M876 254.5h1M212 255.5h1M877 255.5h2M211 256.5h1M879 256.5h1M210 257.5h1M880 257.5h4M209 258.5h1M884 258.5h5M209 259.5h1M889 259.5h4M208 260.5h1M893 260.5h2M207 261.5h1M895 261.5h2M206 262.5h1M897 262.5h2M205 263.5h1M899 263.5h1M204 264.5h1M900 264.5h1M203 265.5h1M901 265.5h1M202 266.5h1M902 266.5h1M201 267.5h1M903 267.5h1M200 268.5h1M904 268.5h1M199 269.5h1M905 269.5h1M197 270.5h2M906 270.5h1M195 271.5h2M906 271.5h1M193 272.5h2M907 272.5h1M192 273.5h1M908 273.5h1M191 274.5h1M908 274.5h1M191 275.5h1M909 275.5h1M190 276.5h1M910 276.5h1M189 277.5h1M910 277.5h1M188 278.5h1M911 278.5h1M188 279.5h1M912 279.5h1M187 280.5h1M913 280.5h1M186 281.5h1M914 281.5h2M185 282.5h1M916 282.5h1M185 283.5h1M917 283.5h1M184 284.5h1M918 284.5h1M183 285.5h1M919 285.5h1M182 286.5h1M920 286.5h1M182 287.5h1M921 287.5h1M181 288.5h1M922 288.5h2M181 289.5h1M924 289.5h1M180 290.5h1M925 290.5h1M180 291.5h1M926 291.5h1M179 292.5h1M179 293.5h1M178 294.5h1M178 295.5h1M177 296.5h1M176 297.5h1M175 298.5h1M174 299.5h1M173 300.5h1M172 301.5h1M171 302.5h1M170 303.5h1M169 304.5h1M168 305.5h1M167 306.5h1M167 307.5h1M166 308.5h1M165 309.5h1M165 310.5h1M164 311.5h1M163 312.5h1M162 313.5h1M161 314.5h1M160 315.5h1M159 316.5h1M158 317.5h1M157 318.5h1M156 319.5h1M155 320.5h1M154 321.5h1M153 322.5h1M152 323.5h1M150 324.5h2M149 325.5h1M148 326.5h1M147 327.5h1M146 328.5h1M145 329.5h1M144 330.5h1M143 331.5h1M142 332.5h1M141 333.5h1M140 334.5h1M139 335.5h1M138 336.5h1M137 337.5h1M136 338.5h1M135 339.5h1M133 340.5h2M131 341.5h2M128 342.5h3M126 343.5h2M124 344.5h2M122 345.5h2M120 346.5h2M119 347.5h1M117 348.5h2M116 349.5h1M115 350.5h1M114 351.5h1M114 352.5h1M113 353.5h1M112 354.5h1M111 355.5h1M110 356.5h1M109 357.5h1M109 358.5h1M108 359.5h1M107 360.5h1M107 361.5h1M106 362.5h1M106 363.5h1M105 364.5h1M105 365.5h1M104 366.5h1M104 367.5h1M103 368.5h1M103 369.5h1M102 370.5h1M102 371.5h1M101 372.5h1M101 373.5h1M100 374.5h1M99 375.5h1M99 376.5h1M98 377.5h1M97 378.5h1M96 379.5h1M96 380.5h1M95 381.5h1M94 382.5h1M93 383.5h1M92 384.5h1M91 385.5h1M90 386.5h1M89 387.5h1M88 388.5h1M87 389.5h1M86 390.5h1M85 391.5h1M84 392.5h1M82 393.5h2M81 394.5h1M80 395.5h1M79 396.5h1M78 397.5h1M76 398.5h2M75 399.5h1M74 400.5h1M73 401.5h1M72 402.5h1M71 403.5h1M70 404.5h1M69 405.5h1M68 406.5h1M67 407.5h1M66 408.5h1M65 409.5h1M64 410.5h1M63 411.5h1M62 412.5h1M61 413.5h1M59 414.5h2M58 415.5h1M57 416.5h1M6 417.5h1M56 417.5h1M7 418.5h2M55 418.5h1M9 419.5h2M54 419.5h1M11 420.5h2M53 420.5h1M13 421.5h1M52 421.5h1M14 422.5h2M50 422.5h2M16 423.5h2M49 423.5h1M18 424.5h2M48 424.5h1M20 425.5h1M47 425.5h1M21 426.5h2M45 426.5h2M23 427.5h2M43 427.5h2M25 428.5h2M40 428.5h3M27 429.5h2M38 429.5h2M29 430.5h4M36 430.5h2M33 431.5h3" fill="none" stroke="#0000cd" stroke-width="1" shape-rendering="crispEdges"/>
<path d="M435 129.5h3M431 130.5h4M438 130.5h2M428 131.5h3M440 131.5h2M413 132.5h7M424 132.5h4M442 132.5h2M413 133.5h1M420 133.5h4M444 133.5h2M412 134.5h1M446 134.5h2M412 135.5h1M448 135.5h1M411 136.5h1M449 136.5h1M411 137.5h1M450 137.5h1M410 138.5h1M450 138.5h1M410 139.5h1M451 139.5h1M409 140.5h1M452 140.5h1M408 141.5h1M453 141.5h1M408 142.5h1M453 142.5h1M407 143.5h1M454 143.5h1M702 143.5h2M407 144.5h1M455 144.5h1M700 144.5h2M704 144.5h4M406 145.5h1M455 145.5h1M698 145.5h2M708 145.5h2M406 146.5h1M456 146.5h1M696 146.5h2M710 146.5h2M405 147.5h1M456 147.5h1M694 147.5h2M712 147.5h1M405 148.5h1M457 148.5h1M671 148.5h1M692 148.5h2M713 148.5h1M404 149.5h1M458 149.5h1M669 149.5h2M672 149.5h2M689 149.5h3M714 149.5h2M404 150.5h1M459 150.5h1M667 150.5h2M674 150.5h2M686 150.5h3M716 150.5h1M403 151.5h1M459 151.5h1M665 151.5h2M676 151.5h4M684 151.5h2M717 151.5h1M403 152.5h1M460 152.5h1M664 152.5h1M680 152.5h4M718 152.5h1M402 153.5h1M461 153.5h1M663 153.5h1M719 153.5h1M402 154.5h1M462 154.5h1M662 154.5h1M720 154.5h1M401 155.5h1M462 155.5h1M661 155.5h1M721 155.5h1M401 156.5h1M463 156.5h1M660 156.5h1M722 156.5h1M400 157.5h1M464 157.5h1M659 157.5h1M723 157.5h1M400 158.5h1M465 158.5h1M658 158.5h1M724 158.5h1M399 159.5h1M466 159.5h1M657 159.5h1M725 159.5h1M399 160.5h1M467 160.5h1M630 160.5h2M655 160.5h2M726 160.5h4M398 161.5h1M468 161.5h1M629 161.5h1M632 161.5h4M640 161.5h5M654 161.5h1M730 161.5h8M398 162.5h1M469 162.5h1M628 162.5h1M636 162.5h4M645 162.5h4M652 162.5h2M738 162.5h5M397 163.5h1M470 163.5h1M627 163.5h1M649 163.5h3M743 163.5h3M396 164.5h1M471 164.5h1M626 164.5h1M746 164.5h2M396 165.5h1M472 165.5h10M625 165.5h1M748 165.5h2M395 166.5h1M482 166.5h2M624 166.5h1M750 166.5h2M769 166.5h4M293 167.5h7M395 167.5h1M484 167.5h2M623 167.5h1M752 167.5h2M765 167.5h4M773 167.5h4M289 168.5h4M300 168.5h2M394 168.5h1M486 168.5h3M498 168.5h8M622 168.5h1M754 168.5h2M760 168.5h5M777 168.5h2M276 169.5h13M302 169.5h2M393 169.5h1M489 169.5h4M496 169.5h2M506 169.5h1M621 169.5h1M756 169.5h4M779 169.5h2M275 170.5h1M304 170.5h3M393 170.5h1M493 170.5h3M507 170.5h1M621 170.5h1M781 170.5h2M273 171.5h2M307 171.5h10M392 171.5h1M508 171.5h2M620 171.5h1M783 171.5h6M272 172.5h1M317 172.5h1M392 172.5h1M510 172.5h1M619 172.5h1M789 172.5h6M271 173.5h1M317 173.5h2M391 173.5h1M511 173.5h1M618 173.5h1M795 173.5h1M270 174.5h1M319 174.5h2M390 174.5h1M512 174.5h1M618 174.5h1M795 174.5h1M270 175.5h1M321 175.5h2M390 175.5h1M513 175.5h1M617 175.5h1M796 175.5h1M269 176.5h1M323 176.5h2M389 176.5h1M514 176.5h1M616 176.5h1M797 176.5h1M268 177.5h1M325 177.5h1M388 177.5h1M515 177.5h2M615 177.5h1M797 177.5h1M268 178.5h1M326 178.5h1M388 178.5h1M517 178.5h1M614 178.5h1M798 178.5h1M267 179.5h1M327 179.5h1M387 179.5h1M518 179.5h1M612 179.5h2M798 179.5h1M266 180.5h1M328 180.5h1M386 180.5h1M519 180.5h1M611 180.5h1M799 180.5h1M265 181.5h1M329 181.5h1M386 181.5h1M520 181.5h1M610 181.5h1M800 181.5h1M265 182.5h1M330 182.5h1M385 182.5h1M521 182.5h1M609 182.5h1M800 182.5h1M264 183.5h1M331 183.5h1M384 183.5h1M521 183.5h1M608 183.5h1M801 183.5h1M262 184.5h2M332 184.5h1M383 184.5h1M522 184.5h1M606 184.5h2M802 184.5h1M260 185.5h2M333 185.5h2M382 185.5h1M523 185.5h1M604 185.5h2M802 185.5h1M258 186.5h2M335 186.5h2M381 186.5h1M524 186.5h1M602 186.5h2M803 186.5h1M257 187.5h1M337 187.5h1M380 187.5h1M524 187.5h1M601 187.5h1M804 187.5h1M256 188.5h1M338 188.5h2M379 188.5h1M525 188.5h1M600 188.5h1M805 188.5h1M255 189.5h1M340 189.5h2M377 189.5h2M526 189.5h2M599 189.5h1M805 189.5h1M254 190.5h1M342 190.5h1M376 190.5h1M528 190.5h2M598 190.5h1M806 190.5h1M253 191.5h1M343 191.5h1M375 191.5h1M530 191.5h2M597 191.5h1M807 191.5h1M253 192.5h1M344 192.5h1M374 192.5h1M532 192.5h1M596 192.5h1M808 192.5h1M252 193.5h1M345 193.5h1M372 193.5h2M533 193.5h1M595 193.5h1M808 193.5h1M252 194.5h1M345 194.5h1M370 194.5h2M534 194.5h1M594 194.5h1M809 194.5h1M251 195.5h1M346 195.5h1M368 195.5h2M535 195.5h2M593 195.5h1M810 195.5h1M251 196.5h1M347 196.5h3M363 196.5h5M537 196.5h1M592 196.5h1M810 196.5h1M250 197.5h1M350 197.5h13M538 197.5h1M591 197.5h1M811 197.5h1M250 198.5h1M539 198.5h1M590 198.5h1M811 198.5h1M249 199.5h1M539 199.5h1M589 199.5h1M812 199.5h1M249 200.5h1M540 200.5h1M588 200.5h1M812 200.5h1M248 201.5h1M541 201.5h1M587 201.5h1M813 201.5h1M248 202.5h1M541 202.5h1M586 202.5h1M813 202.5h1M247 203.5h1M542 203.5h1M585 203.5h1M814 203.5h1M246 204.5h1M542 204.5h1M584 204.5h1M815 204.5h1M245 205.5h1M543 205.5h1M583 205.5h1M815 205.5h1M244 206.5h1M544 206.5h2M582 206.5h1M816 206.5h1M244 207.5h1M546 207.5h1M581 207.5h1M817 207.5h1M243 208.5h1M547 208.5h2M579 208.5h2M818 208.5h1M242 209.5h1M549 209.5h1M577 209.5h2M818 209.5h1M241 210.5h1M550 210.5h2M575 210.5h2M819 210.5h1M239 211.5h2M552 211.5h1M573 211.5h2M820 211.5h1M238 212.5h1M553 212.5h2M571 212.5h2M821 212.5h1M237 213.5h1M555 213.5h3M565 213.5h6M822 213.5h1M235 214.5h2M558 214.5h7M823 214.5h2M234 215.5h1M825 215.5h1M233 216.5h1M826 216.5h1M232 217.5h1M827 217.5h1M231 218.5h1M828 218.5h1M231 219.5h1M829 219.5h1M230 220.5h1M829 220.5h1M229 221.5h1M830 221.5h1M228 222.5h1M831 222.5h1M227 223.5h1M832 223.5h1M226 224.5h1M833 224.5h1M225 225.5h1M834 225.5h1M225 226.5h1M834 226.5h1M224 227.5h1M835 227.5h1M223 228.5h1M836 228.5h1M222 229.5h1M837 229.5h1M221 230.5h1M837 230.5h1M220 231.5h1M838 231.5h1M218 232.5h2M839 232.5h1M217 233.5h1M840 233.5h1M215 234.5h2M840 234.5h1M214 235.5h1M841 235.5h1M213 236.5h1M841 236.5h1M211 237.5h2M842 237.5h1M210 238.5h1M843 238.5h1M209 239.5h1M843 239.5h1M208 240.5h1M844 240.5h1M207 241.5h1M844 241.5h1M206 242.5h1M845 242.5h1M205 243.5h1M846 243.5h1M204 244.5h1M846 244.5h1M204 245.5h1M847 245.5h1M203 246.5h1M848 246.5h1M202 247.5h1M848 247.5h1M201 248.5h1M849 248.5h1M201 249.5h1M849 249.5h1M200 250.5h1M850 250.5h15M199 251.5h1M865 251.5h3M197 252.5h2M868 252.5h2M196 253.5h1M870 253.5h1M194 254.5h2M871 254.5h1M193 255.5h1M872 255.5h1M191 256.5h2M873 256.5h1M190 257.5h1M874 257.5h1M189 258.5h1M875 258.5h2M188 259.5h1M877 259.5h1M188 260.5h1M878 260.5h2M187 261.5h1M880 261.5h1M187 262.5h1M881 262.5h1M186 263.5h1M882 263.5h2M186 264.5h1M884 264.5h1M185 265.5h1M885 265.5h1M184 266.5h1M886 266.5h1M184 267.5h1M887 267.5h1M183 268.5h1M888 268.5h2M183 269.5h1M890 269.5h1M182 270.5h1M891 270.5h1M181 271.5h1M892 271.5h2M181 272.5h1M894 272.5h1M180 273.5h1M895 273.5h2M180 274.5h1M897 274.5h2M179 275.5h1M899 275.5h2M179 276.5h1M901 276.5h2M178 277.5h1M903 277.5h1M178 278.5h1M904 278.5h1M177 279.5h1M905 279.5h1M176 280.5h1M906 280.5h1M176 281.5h1M907 281.5h1M175 282.5h1M908 282.5h1M174 283.5h1M909 283.5h1M173 284.5h1M909 284.5h1M173 285.5h1M910 285.5h1M172 286.5h1M910 286.5h1M171 287.5h1M911 287.5h1M170 288.5h1M911 288.5h1M169 289.5h1M912 289.5h1M168 290.5h1M912 290.5h1M167 291.5h1M913 291.5h1M166 292.5h1M914 292.5h1M165 293.5h1M915 293.5h1M164 294.5h1M916 294.5h1M163 295.5h1M917 295.5h1M163 296.5h1M917 296.5h1M162 297.5h1M918 297.5h1M162 298.5h1M919 298.5h1M161 299.5h1M920 299.5h2M160 300.5h1M922 300.5h3M160 301.5h1M925 301.5h2M159 302.5h1M158 303.5h1M158 304.5h1M157 305.5h1M157 306.5h1M156 307.5h1M155 308.5h1M154 309.5h1M153 310.5h1M152 311.5h1M151 312.5h1M150 313.5h1M149 314.5h1M148 315.5h1M147 316.5h1M146 317.5h1M145 318.5h1M144 319.5h1M143 320.5h1M142 321.5h1M142 322.5h1M141 323.5h1M140 324.5h1M139 325.5h1M138 326.5h1M137 327.5h1M136 328.5h1M135 329.5h1M133 330.5h2M132 331.5h1M131 332.5h1M129 333.5h2M127 334.5h2M125 335.5h2M124 336.5h1M123 337.5h1M122 338.5h1M120 339.5h2M119 340.5h1M118 341.5h1M117 342.5h1M116 343.5h1M115 344.5h1M113 345.5h2M112 346.5h1M111 347.5h1M110 348.5h1M108 349.5h2M106 350.5h2M105 351.5h1M103 352.5h2M102 353.5h1M100 354.5h2M98 355.5h2M92 356.5h6M91 357.5h1M89 358.5h2M88 359.5h1M87 360.5h1M85 361.5h2M83 362.5h2M82 363.5h1M82 364.5h1M81 365.5h1M81 366.5h1M80 367.5h1M80 368.5h1M80 369.5h1M79 370.5h1M79 371.5h1M78 372.5h1M78 373.5h1M77 374.5h1M77 375.5h1M77 376.5h1M76 377.5h1M76 378.5h1M75 379.5h1M75 380.5h1M74 381.5h1M74 382.5h1M73 383.5h1M73 384.5h1M72 385.5h1M72 386.5h1M71 387.5h1M71 388.5h1M70 389.5h1M70 390.5h1M69 391.5h1M69 392.5h1M68 393.5h1M68 394.5h1M67 395.5h1M67 396.5h1M66 397.5h1M66 398.5h1M65 399.5h1M65 400.5h1M64 401.5h1M64 402.5h1M63 403.5h1M62 404.5h1M61 405.5h1M60 406.5h1M59 407.5h1M58 408.5h1M57 409.5h1M56 410.5h1M55 411.5h1M54 412.5h1M53 413.5h1M52 414.5h1M51 415.5h1M50 416.5h1M49 417.5h1M48 418.5h1M47 419.5h1M46 420.5h1M45 421.5h1M45 422.5h1M44 423.5h1M43 424.5h1M42 425.5h1M6 426.5h1M41 426.5h1M7 427.5h1M40 427.5h1M8 428.5h1M39 428.5h1M9 429.5h1M39 429.5h1M10 430.5h1M38 430.5h1M11 431.5h1M37 431.5h1M12 432.5h1M36 432.5h1M13 433.5h1M36 433.5h1M14 434.5h1M35 434.5h1M15 435.5h2M34 435.5h1M17 436.5h1M32 436.5h2M18 437.5h1M31 437.5h1M19 438.5h2M29 438.5h2M21 439.5h8" fill="none" stroke="#ff0000" stroke-width="1" shape-rendering="crispEdges"/>
<path d="M255 500.5h11M251 501.5h4M266 501.5h9M191 502.5h18M248 502.5h3M275 502.5h3M187 503.5h4M209 503.5h9M244 503.5h4M278 503.5h2M185 504.5h2M218 504.5h2M241 504.5h3M280 504.5h2M183 505.5h2M220 505.5h4M237 505.5h4M282 505.5h2M179 506.5h4M224 506.5h13M284 506.5h2M174 507.5h5M286 507.5h1M169 508.5h5M287 508.5h2M165 509.5h4M289 509.5h3M162 510.5h3M292 510.5h3M160 511.5h2M295 511.5h2M150 512.5h10M297 512.5h2M140 513.5h10M299 513.5h2M132 514.5h8M301 514.5h2M117 515.5h15M303 515.5h2M112 516.5h5M305 516.5h3M419 516.5h15M102 517.5h10M308 517.5h3M417 517.5h2M434 517.5h4M87 518.5h15M311 518.5h3M415 518.5h2M438 518.5h2M85 519.5h2M314 519.5h3M413 519.5h2M440 519.5h1M80 520.5h5M317 520.5h2M411 520.5h2M441 520.5h2M76 521.5h4M319 521.5h2M409 521.5h2M443 521.5h1M74 522.5h2M321 522.5h2M407 522.5h2M444 522.5h1M73 523.5h1M323 523.5h2M405 523.5h2M445 523.5h1M72 524.5h1M325 524.5h2M403 524.5h2M446 524.5h1M70 525.5h2M327 525.5h2M401 525.5h2M447 525.5h1M69 526.5h1M329 526.5h2M399 526.5h2M448 526.5h1M688 526.5h7M68 527.5h1M331 527.5h2M397 527.5h2M449 527.5h1M681 527.5h7M695 527.5h2M66 528.5h2M333 528.5h1M395 528.5h2M450 528.5h1M626 528.5h19M667 528.5h14M697 528.5h3M65 529.5h1M334 529.5h2M393 529.5h2M451 529.5h1M623 529.5h3M645 529.5h8M665 529.5h2M700 529.5h3M64 530.5h1M336 530.5h2M391 530.5h2M452 530.5h1M620 530.5h3M653 530.5h12M703 530.5h2M63 531.5h1M338 531.5h1M388 531.5h3M453 531.5h1M617 531.5h3M705 531.5h4M62 532.5h1M339 532.5h1M385 532.5h3M454 532.5h2M615 532.5h2M709 532.5h5M61 533.5h1M340 533.5h2M383 533.5h2M456 533.5h2M613 533.5h2M714 533.5h4M60 534.5h1M342 534.5h1M381 534.5h2M458 534.5h1M611 534.5h2M718 534.5h4M60 535.5h1M343 535.5h1M379 535.5h2M459 535.5h2M609 535.5h2M722 535.5h4M59 536.5h1M344 536.5h2M378 536.5h1M461 536.5h2M607 536.5h2M726 536.5h2M58 537.5h1M346 537.5h2M376 537.5h2M463 537.5h2M606 537.5h1M728 537.5h2M57 538.5h1M348 538.5h2M374 538.5h2M465 538.5h2M604 538.5h2M730 538.5h2M56 539.5h1M350 539.5h3M372 539.5h2M467 539.5h3M603 539.5h1M732 539.5h3M54 540.5h2M353 540.5h4M369 540.5h3M470 540.5h2M601 540.5h2M735 540.5h4M53 541.5h1M357 541.5h12M472 541.5h2M600 541.5h1M739 541.5h6M52 542.5h1M474 542.5h2M492 542.5h13M598 542.5h2M745 542.5h8M772 542.5h9M50 543.5h2M476 543.5h16M505 543.5h2M596 543.5h2M753 543.5h19M781 543.5h17M49 544.5h1M507 544.5h4M594 544.5h2M798 544.5h3M48 545.5h1M511 545.5h4M592 545.5h2M801 545.5h2M46 546.5h2M515 546.5h2M590 546.5h2M803 546.5h1M44 547.5h2M517 547.5h2M588 547.5h2M804 547.5h2M43 548.5h1M519 548.5h3M586 548.5h2M806 548.5h1M41 549.5h2M522 549.5h2M584 549.5h2M807 549.5h1M39 550.5h2M524 550.5h3M582 550.5h2M808 550.5h2M5 551.5h16M37 551.5h2M527 551.5h3M580 551.5h2M810 551.5h2M21 552.5h16M530 552.5h2M578 552.5h2M812 552.5h1M532 553.5h2M575 553.5h3M813 553.5h1M534 554.5h3M571 554.5h4M814 554.5h1M537 555.5h2M568 555.5h3M815 555.5h2M539 556.5h3M558 556.5h10M817 556.5h1M542 557.5h2M553 557.5h5M818 557.5h1M544 558.5h9M819 558.5h2M821 559.5h2M823 560.5h2M825 561.5h2M827 562.5h2M829 563.5h2M831 564.5h2M888 564.5h17M833 565.5h36M880 565.5h8M905 565.5h8M869 566.5h11M913 566.5h4M917 567.5h5M922 568.5h3M925 569.5h2" fill="none" stroke="#ff0000" stroke-width="1" shape-rendering="crispEdges"/>
<path d="M182 597.5h1M181 598.5h1M183 598.5h2M180 599.5h1M185 599.5h6M179 600.5h1M190 600.5h1M414 600.5h1M176 601.5h3M191 601.5h1M412 601.5h3M172 602.5h4M191 602.5h1M225 602.5h2M241 602.5h2M411 602.5h1M414 602.5h1M160 603.5h12M191 603.5h1M223 603.5h2M227 603.5h1M239 603.5h2M243 603.5h1M249 603.5h2M408 603.5h3M415 603.5h1M158 604.5h2M192 604.5h1M222 604.5h1M228 604.5h1M238 604.5h1M244 604.5h2M247 604.5h2M251 604.5h1M401 604.5h7M415 604.5h1M157 605.5h1M192 605.5h1M221 605.5h1M229 605.5h1M236 605.5h2M246 605.5h1M252 605.5h1M399 605.5h2M415 605.5h1M134 606.5h1M156 606.5h1M193 606.5h1M220 606.5h1M230 606.5h2M235 606.5h1M252 606.5h1M396 606.5h3M415 606.5h1M133 607.5h1M135 607.5h2M140 607.5h7M155 607.5h1M193 607.5h1M220 607.5h1M232 607.5h3M253 607.5h1M394 607.5h2M415 607.5h1M49 608.5h2M74 608.5h1M113 608.5h3M132 608.5h1M137 608.5h3M147 608.5h1M154 608.5h1M193 608.5h1M219 608.5h1M254 608.5h1M394 608.5h1M415 608.5h1M47 609.5h2M51 609.5h1M73 609.5h1M75 609.5h1M81 609.5h2M111 609.5h2M116 609.5h3M132 609.5h1M148 609.5h1M153 609.5h1M194 609.5h1M204 609.5h7M218 609.5h1M255 609.5h1M269 609.5h2M393 609.5h1M416 609.5h1M38 610.5h9M52 610.5h2M72 610.5h1M76 610.5h2M79 610.5h2M83 610.5h1M108 610.5h3M119 610.5h2M131 610.5h1M148 610.5h1M152 610.5h1M194 610.5h1M202 610.5h2M211 610.5h1M217 610.5h1M255 610.5h1M267 610.5h2M271 610.5h1M393 610.5h1M416 610.5h1M618 610.5h1M658 610.5h1M665 610.5h2M38 611.5h1M54 611.5h2M72 611.5h1M78 611.5h1M83 611.5h1M102 611.5h6M121 611.5h2M130 611.5h1M149 611.5h1M151 611.5h1M195 611.5h1M201 611.5h1M212 611.5h1M216 611.5h1M256 611.5h1M264 611.5h3M271 611.5h1M377 611.5h3M392 611.5h1M416 611.5h1M617 611.5h1M619 611.5h1M657 611.5h1M659 611.5h2M663 611.5h2M667 611.5h1M37 612.5h1M56 612.5h7M71 612.5h1M84 612.5h1M101 612.5h1M123 612.5h1M128 612.5h2M150 612.5h1M196 612.5h1M200 612.5h1M213 612.5h1M215 612.5h1M256 612.5h1M262 612.5h2M272 612.5h1M293 612.5h2M366 612.5h1M375 612.5h2M380 612.5h3M392 612.5h1M416 612.5h1M594 612.5h1M616 612.5h1M620 612.5h1M657 612.5h1M661 612.5h2M668 612.5h2M37 613.5h1M63 613.5h1M69 613.5h2M84 613.5h1M90 613.5h5M101 613.5h1M124 613.5h2M127 613.5h1M196 613.5h1M200 613.5h1M214 613.5h1M257 613.5h1M260 613.5h2M272 613.5h1M291 613.5h2M295 613.5h1M364 613.5h2M367 613.5h2M372 613.5h3M383 613.5h1M392 613.5h1M416 613.5h1M580 613.5h3M592 613.5h2M595 613.5h1M601 613.5h2M615 613.5h1M621 613.5h1M656 613.5h1M670 613.5h1M36 614.5h1M64 614.5h2M67 614.5h2M85 614.5h1M88 614.5h2M95 614.5h1M100 614.5h1M126 614.5h1M197 614.5h1M199 614.5h1M257 614.5h1M259 614.5h1M273 614.5h1M290 614.5h1M296 614.5h1M363 614.5h1M369 614.5h3M383 614.5h1M391 614.5h1M416 614.5h1M578 614.5h2M583 614.5h2M591 614.5h1M596 614.5h2M599 614.5h2M603 614.5h1M613 614.5h2M622 614.5h2M656 614.5h1M670 614.5h1M36 615.5h1M66 615.5h1M85 615.5h1M87 615.5h1M96 615.5h1M99 615.5h1M198 615.5h1M258 615.5h1M273 615.5h1M288 615.5h2M296 615.5h1M310 615.5h1M360 615.5h3M384 615.5h1M391 615.5h1M417 615.5h1M578 615.5h1M585 615.5h6M598 615.5h1M604 615.5h1M611 615.5h2M624 615.5h4M655 615.5h1M671 615.5h1M35 616.5h1M86 616.5h1M97 616.5h1M99 616.5h1M274 616.5h1M276 616.5h3M287 616.5h1M297 616.5h1M309 616.5h1M311 616.5h1M356 616.5h4M385 616.5h1M390 616.5h1M417 616.5h1M577 616.5h1M604 616.5h1M609 616.5h2M628 616.5h3M655 616.5h1M671 616.5h1M30 617.5h2M35 617.5h1M98 617.5h1M274 617.5h2M279 617.5h1M285 617.5h2M298 617.5h2M308 617.5h1M311 617.5h1M354 617.5h2M385 617.5h1M388 617.5h3M417 617.5h1M577 617.5h1M605 617.5h1M607 617.5h2M631 617.5h1M642 617.5h1M653 617.5h2M671 617.5h1M30 618.5h1M32 618.5h3M280 618.5h2M283 618.5h2M300 618.5h4M307 618.5h1M312 618.5h1M353 618.5h1M386 618.5h2M417 618.5h1M486 618.5h1M577 618.5h1M606 618.5h1M631 618.5h1M641 618.5h2M651 618.5h2M672 618.5h1M29 619.5h1M282 619.5h1M304 619.5h3M312 619.5h1M352 619.5h1M417 619.5h1M429 619.5h3M486 619.5h2M576 619.5h1M632 619.5h1M641 619.5h1M643 619.5h1M650 619.5h1M672 619.5h1M684 619.5h3M29 620.5h1M313 620.5h1M351 620.5h1M417 620.5h1M427 620.5h2M432 620.5h7M485 620.5h1M488 620.5h1M576 620.5h1M632 620.5h1M640 620.5h1M643 620.5h1M649 620.5h1M673 620.5h1M682 620.5h2M687 620.5h2M692 620.5h3M702 620.5h1M742 620.5h2M761 620.5h2M29 621.5h1M313 621.5h1M348 621.5h3M418 621.5h1M426 621.5h1M438 621.5h1M462 621.5h2M468 621.5h3M485 621.5h1M489 621.5h1M576 621.5h1M633 621.5h1M640 621.5h1M644 621.5h1M649 621.5h1M673 621.5h1M681 621.5h1M689 621.5h3M695 621.5h1M700 621.5h2M703 621.5h1M740 621.5h2M744 621.5h3M759 621.5h2M763 621.5h2M773 621.5h2M6 622.5h1M28 622.5h1M314 622.5h1M346 622.5h2M418 622.5h1M425 622.5h1M439 622.5h1M461 622.5h1M464 622.5h4M471 622.5h1M477 622.5h2M484 622.5h1M490 622.5h9M575 622.5h1M633 622.5h1M639 622.5h1M644 622.5h1M648 622.5h1M673 622.5h1M680 622.5h1M696 622.5h2M699 622.5h1M704 622.5h1M739 622.5h1M746 622.5h1M754 622.5h5M765 622.5h3M771 622.5h2M775 622.5h1M7 623.5h1M28 623.5h1M315 623.5h2M320 623.5h3M345 623.5h1M418 623.5h1M425 623.5h1M439 623.5h1M460 623.5h1M472 623.5h2M475 623.5h2M479 623.5h1M484 623.5h1M499 623.5h1M548 623.5h3M575 623.5h1M634 623.5h2M639 623.5h1M645 623.5h1M648 623.5h1M674 623.5h1M680 623.5h1M698 623.5h1M704 623.5h1M720 623.5h4M738 623.5h1M747 623.5h1M754 623.5h1M768 623.5h3M775 623.5h1M7 624.5h1M28 624.5h1M317 624.5h3M323 624.5h1M345 624.5h1M418 624.5h1M424 624.5h1M440 624.5h1M459 624.5h1M474 624.5h1M480 624.5h1M483 624.5h1M499 624.5h1M546 624.5h2M551 624.5h1M575 624.5h1M636 624.5h3M645 624.5h1M647 624.5h1M674 624.5h2M679 624.5h1M705 624.5h1M712 624.5h8M724 624.5h3M737 624.5h1M747 624.5h1M753 624.5h1M776 624.5h1M785 624.5h2M794 624.5h1M8 625.5h1M28 625.5h1M324 625.5h1M344 625.5h1M419 625.5h1M423 625.5h1M440 625.5h1M456 625.5h3M481 625.5h1M483 625.5h1M500 625.5h1M545 625.5h1M552 625.5h1M557 625.5h3M574 625.5h1M646 625.5h2M676 625.5h3M706 625.5h6M727 625.5h1M736 625.5h1M747 625.5h1M753 625.5h1M777 625.5h1M783 625.5h2M787 625.5h1M793 625.5h2M8 626.5h1M27 626.5h1M325 626.5h1M344 626.5h1M420 626.5h2M423 626.5h1M440 626.5h1M454 626.5h2M482 626.5h1M501 626.5h1M545 626.5h1M553 626.5h1M555 626.5h2M560 626.5h4M572 626.5h3M646 626.5h1M728 626.5h1M735 626.5h1M748 626.5h1M752 626.5h1M777 626.5h1M780 626.5h3M788 626.5h1M792 626.5h1M795 626.5h1M9 627.5h1M27 627.5h1M326 627.5h1M343 627.5h1M422 627.5h1M441 627.5h1M452 627.5h2M501 627.5h1M544 627.5h1M554 627.5h1M564 627.5h8M729 627.5h1M732 627.5h3M748 627.5h1M752 627.5h1M778 627.5h2M789 627.5h1M791 627.5h1M795 627.5h1M826 627.5h2M9 628.5h1M27 628.5h1M327 628.5h2M338 628.5h2M343 628.5h1M441 628.5h1M445 628.5h3M451 628.5h1M502 628.5h1M521 628.5h2M543 628.5h1M730 628.5h2M749 628.5h1M752 628.5h1M790 628.5h1M795 628.5h1M824 628.5h2M828 628.5h4M10 629.5h1M26 629.5h1M329 629.5h2M337 629.5h1M340 629.5h3M442 629.5h3M448 629.5h3M503 629.5h1M514 629.5h2M519 629.5h2M523 629.5h2M536 629.5h4M543 629.5h1M749 629.5h1M751 629.5h1M796 629.5h1M818 629.5h2M823 629.5h1M832 629.5h3M854 629.5h5M10 630.5h1M24 630.5h3M331 630.5h1M336 630.5h1M442 630.5h1M504 630.5h1M513 630.5h1M516 630.5h3M525 630.5h11M540 630.5h3M749 630.5h1M751 630.5h1M796 630.5h1M817 630.5h1M820 630.5h3M835 630.5h1M853 630.5h1M859 630.5h1M876 630.5h8M11 631.5h1M20 631.5h4M332 631.5h2M335 631.5h1M505 631.5h1M513 631.5h1M750 631.5h1M796 631.5h1M817 631.5h1M836 631.5h1M852 631.5h1M860 631.5h2M874 631.5h2M884 631.5h4M12 632.5h1M17 632.5h3M334 632.5h1M506 632.5h1M512 632.5h1M750 632.5h1M797 632.5h1M816 632.5h1M836 632.5h1M851 632.5h1M862 632.5h2M873 632.5h1M888 632.5h3M13 633.5h1M15 633.5h2M507 633.5h1M511 633.5h1M797 633.5h1M816 633.5h1M837 633.5h1M850 633.5h1M864 633.5h3M873 633.5h1M891 633.5h1M14 634.5h1M508 634.5h2M511 634.5h1M797 634.5h1M815 634.5h1M838 634.5h2M849 634.5h1M867 634.5h1M872 634.5h1M892 634.5h2M510 635.5h1M798 635.5h1M815 635.5h1M840 635.5h3M848 635.5h1M868 635.5h1M871 635.5h1M894 635.5h1M798 636.5h1M810 636.5h5M843 636.5h2M847 636.5h1M869 636.5h1M871 636.5h1M895 636.5h2M917 636.5h10M799 637.5h1M808 637.5h2M845 637.5h2M870 637.5h1M897 637.5h3M915 637.5h2M800 638.5h2M807 638.5h1M900 638.5h3M914 638.5h1M802 639.5h5M903 639.5h1M913 639.5h1M904 640.5h1M912 640.5h1M905 641.5h1M912 641.5h1M906 642.5h2M911 642.5h1M908 643.5h3" fill="none" stroke="#1e90ff" stroke-width="1" shape-rendering="crispEdges"/>
<g shape-rendering="crispEdges"><rect x="6" y="171" width="1162" height="2" fill="#ff0000"/><rect x="6" y="234" width="1162" height="2" fill="#ff0000"/><rect x="5" y="232" width="6" height="6" fill="#ff0000"/><rect x="7" y="234" width="2" height="2" fill="#fff"/><rect x="1162" y="232" width="6" height="6" fill="#ff0000"/><rect x="1164" y="234" width="2" height="2" fill="#fff"/><rect x="6" y="305" width="1162" height="2" fill="#00ff00"/><rect x="5" y="303" width="6" height="6" fill="#00ff00"/><rect x="7" y="305" width="2" height="2" fill="#fff"/><rect x="1162" y="303" width="6" height="6" fill="#00ff00"/><rect x="1164" y="305" width="2" height="2" fill="#fff"/><rect x="6" y="373" width="1162" height="2" fill="#0000ff"/><rect x="5" y="371" width="6" height="6" fill="#0000ff"/><rect x="7" y="373" width="2" height="2" fill="#fff"/><rect x="1162" y="371" width="6" height="6" fill="#0000ff"/><rect x="1164" y="373" width="2" height="2" fill="#fff"/><rect x="6" y="440" width="1162" height="2" fill="#0000ff"/></g>
<g shape-rendering="crispEdges"><rect x="6" y="413" width="1" height="19" fill="#ff0000"/><rect x="6" y="414" width="2" height="15" fill="#ff0000"/><rect x="6" y="415" width="1" height="13" fill="#ff4500"/><rect x="10" y="409" width="1" height="51" fill="#32cd32"/><rect x="9" y="415" width="3" height="33" fill="#32cd32"/><rect x="14" y="443" width="1" height="32" fill="#32cd32"/><rect x="13" y="447" width="3" height="27" fill="#32cd32"/><rect x="18" y="445" width="1" height="30" fill="#ff0000"/><rect x="17" y="466" width="3" height="7" fill="#ff0000"/><rect x="18" y="467" width="1" height="5" fill="#ff4500"/><rect x="22" y="458" width="1" height="11" fill="#ff0000"/><rect x="21" y="463" width="3" height="3" fill="#ff0000"/><rect x="22" y="464" width="1" height="1" fill="#ff4500"/><rect x="26" y="452" width="1" height="28" fill="#ff0000"/><rect x="25" y="459" width="3" height="9" fill="#ff0000"/><rect x="26" y="460" width="1" height="7" fill="#ff4500"/><rect x="30" y="404" width="1" height="60" fill="#ff0000"/><rect x="29" y="405" width="3" height="54" fill="#ff0000"/><rect x="30" y="406" width="1" height="52" fill="#ff4500"/><rect x="34" y="382" width="1" height="73" fill="#32cd32"/><rect x="33" y="405" width="3" height="4" fill="#32cd32"/><rect x="38" y="359" width="1" height="56" fill="#ff0000"/><rect x="37" y="361" width="3" height="48" fill="#ff0000"/><rect x="38" y="362" width="1" height="46" fill="#ff4500"/><rect x="42" y="354" width="1" height="22" fill="#32cd32"/><rect x="41" y="361" width="3" height="2" fill="#32cd32"/><rect x="46" y="359" width="1" height="6" fill="#32cd32"/><rect x="45" y="362" width="3" height="3" fill="#32cd32"/><rect x="50" y="332" width="1" height="32" fill="#ff0000"/><rect x="49" y="351" width="3" height="9" fill="#ff0000"/><rect x="50" y="352" width="1" height="7" fill="#ff4500"/><rect x="54" y="349" width="1" height="21" fill="#32cd32"/><rect x="53" y="351" width="3" height="11" fill="#32cd32"/><rect x="58" y="342" width="1" height="25" fill="#32cd32"/><rect x="57" y="362" width="3" height="4" fill="#32cd32"/><rect x="62" y="352" width="1" height="21" fill="#32cd32"/><rect x="61" y="364" width="3" height="1" fill="#32cd32"/><rect x="66" y="361" width="1" height="22" fill="#32cd32"/><rect x="65" y="365" width="3" height="8" fill="#32cd32"/><rect x="70" y="360" width="1" height="13" fill="#ff0000"/><rect x="69" y="364" width="3" height="9" fill="#ff0000"/><rect x="70" y="365" width="1" height="7" fill="#ff4500"/><rect x="74" y="340" width="1" height="25" fill="#ff0000"/><rect x="73" y="340" width="3" height="25" fill="#ff0000"/><rect x="74" y="341" width="1" height="23" fill="#ff4500"/><rect x="78" y="333" width="1" height="22" fill="#32cd32"/><rect x="77" y="340" width="3" height="9" fill="#32cd32"/><rect x="82" y="337" width="1" height="25" fill="#ff0000"/><rect x="81" y="339" width="3" height="10" fill="#ff0000"/><rect x="82" y="340" width="1" height="8" fill="#ff4500"/><rect x="86" y="336" width="1" height="33" fill="#32cd32"/><rect x="85" y="339" width="3" height="24" fill="#32cd32"/><rect x="90" y="339" width="1" height="27" fill="#ff0000"/><rect x="89" y="344" width="3" height="19" fill="#ff0000"/><rect x="90" y="345" width="1" height="17" fill="#ff4500"/><rect x="94" y="342" width="1" height="6" fill="#ff0000"/><rect x="93" y="344" width="3" height="1" fill="#ff0000"/><rect x="98" y="333" width="1" height="29" fill="#32cd32"/><rect x="97" y="349" width="3" height="10" fill="#32cd32"/><rect x="102" y="321" width="1" height="44" fill="#ff0000"/><rect x="101" y="331" width="3" height="28" fill="#ff0000"/><rect x="102" y="332" width="1" height="26" fill="#ff4500"/><rect x="106" y="318" width="1" height="22" fill="#ff0000"/><rect x="105" y="328" width="3" height="4" fill="#ff0000"/><rect x="106" y="329" width="1" height="2" fill="#ff4500"/><rect x="110" y="318" width="1" height="12" fill="#ff0000"/><rect x="109" y="323" width="3" height="6" fill="#ff0000"/><rect x="110" y="324" width="1" height="4" fill="#ff4500"/><rect x="114" y="308" width="1" height="20" fill="#ff0000"/><rect x="113" y="309" width="3" height="15" fill="#ff0000"/><rect x="114" y="310" width="1" height="13" fill="#ff4500"/><rect x="118" y="308" width="1" height="7" fill="#32cd32"/><rect x="117" y="309" width="3" height="4" fill="#32cd32"/><rect x="122" y="304" width="1" height="22" fill="#32cd32"/><rect x="121" y="313" width="3" height="9" fill="#32cd32"/><rect x="126" y="318" width="1" height="16" fill="#32cd32"/><rect x="125" y="321" width="3" height="6" fill="#32cd32"/><rect x="130" y="310" width="1" height="19" fill="#ff0000"/><rect x="129" y="316" width="3" height="11" fill="#ff0000"/><rect x="130" y="317" width="1" height="9" fill="#ff4500"/><rect x="134" y="288" width="1" height="29" fill="#ff0000"/><rect x="133" y="288" width="3" height="29" fill="#ff0000"/><rect x="134" y="289" width="1" height="27" fill="#ff4500"/><rect x="138" y="287" width="1" height="17" fill="#32cd32"/><rect x="137" y="288" width="3" height="6" fill="#32cd32"/><rect x="142" y="289" width="1" height="6" fill="#ff0000"/><rect x="141" y="291" width="3" height="4" fill="#ff0000"/><rect x="142" y="292" width="1" height="2" fill="#ff4500"/><rect x="146" y="288" width="1" height="32" fill="#ff0000"/><rect x="145" y="289" width="3" height="6" fill="#ff0000"/><rect x="146" y="290" width="1" height="4" fill="#ff4500"/><rect x="150" y="285" width="1" height="24" fill="#32cd32"/><rect x="149" y="289" width="3" height="14" fill="#32cd32"/><rect x="154" y="272" width="1" height="36" fill="#ff0000"/><rect x="153" y="282" width="3" height="21" fill="#ff0000"/><rect x="154" y="283" width="1" height="19" fill="#ff4500"/><rect x="158" y="253" width="1" height="45" fill="#ff0000"/><rect x="157" y="258" width="3" height="25" fill="#ff0000"/><rect x="158" y="259" width="1" height="23" fill="#ff4500"/><rect x="162" y="236" width="1" height="25" fill="#ff0000"/><rect x="161" y="251" width="3" height="8" fill="#ff0000"/><rect x="162" y="252" width="1" height="6" fill="#ff4500"/><rect x="166" y="247" width="1" height="8" fill="#ff0000"/><rect x="165" y="250" width="3" height="2" fill="#ff0000"/><rect x="170" y="233" width="1" height="23" fill="#32cd32"/><rect x="169" y="245" width="3" height="6" fill="#32cd32"/><rect x="174" y="245" width="1" height="18" fill="#ff0000"/><rect x="173" y="249" width="3" height="2" fill="#ff0000"/><rect x="178" y="232" width="1" height="19" fill="#ff0000"/><rect x="177" y="239" width="3" height="11" fill="#ff0000"/><rect x="178" y="240" width="1" height="9" fill="#ff4500"/><rect x="182" y="207" width="1" height="43" fill="#ff0000"/><rect x="181" y="215" width="3" height="25" fill="#ff0000"/><rect x="182" y="216" width="1" height="23" fill="#ff4500"/><rect x="186" y="210" width="1" height="22" fill="#32cd32"/><rect x="185" y="216" width="3" height="4" fill="#32cd32"/><rect x="190" y="214" width="1" height="10" fill="#ff0000"/><rect x="189" y="217" width="3" height="3" fill="#ff0000"/><rect x="190" y="218" width="1" height="1" fill="#ff4500"/><rect x="194" y="221" width="1" height="61" fill="#32cd32"/><rect x="193" y="223" width="3" height="19" fill="#32cd32"/><rect x="198" y="224" width="1" height="35" fill="#32cd32"/><rect x="197" y="241" width="3" height="18" fill="#32cd32"/><rect x="202" y="227" width="1" height="32" fill="#ff0000"/><rect x="201" y="232" width="3" height="27" fill="#ff0000"/><rect x="202" y="233" width="1" height="25" fill="#ff4500"/><rect x="206" y="221" width="1" height="16" fill="#ff0000"/><rect x="205" y="225" width="3" height="8" fill="#ff0000"/><rect x="206" y="226" width="1" height="6" fill="#ff4500"/><rect x="210" y="222" width="1" height="8" fill="#32cd32"/><rect x="209" y="224" width="3" height="3" fill="#32cd32"/><rect x="214" y="214" width="1" height="28" fill="#32cd32"/><rect x="213" y="225" width="3" height="13" fill="#32cd32"/><rect x="218" y="215" width="1" height="25" fill="#ff0000"/><rect x="217" y="218" width="3" height="19" fill="#ff0000"/><rect x="218" y="219" width="1" height="17" fill="#ff4500"/><rect x="222" y="188" width="1" height="35" fill="#ff0000"/><rect x="221" y="188" width="3" height="31" fill="#ff0000"/><rect x="222" y="189" width="1" height="29" fill="#ff4500"/><rect x="226" y="164" width="1" height="29" fill="#ff0000"/><rect x="225" y="172" width="3" height="17" fill="#ff0000"/><rect x="226" y="173" width="1" height="15" fill="#ff4500"/><rect x="230" y="172" width="1" height="15" fill="#32cd32"/><rect x="229" y="172" width="3" height="15" fill="#32cd32"/><rect x="234" y="164" width="1" height="28" fill="#32cd32"/><rect x="233" y="184" width="3" height="6" fill="#32cd32"/><rect x="238" y="168" width="1" height="39" fill="#ff0000"/><rect x="237" y="170" width="3" height="19" fill="#ff0000"/><rect x="238" y="171" width="1" height="17" fill="#ff4500"/><rect x="242" y="131" width="1" height="41" fill="#ff0000"/><rect x="241" y="152" width="3" height="20" fill="#ff0000"/><rect x="242" y="153" width="1" height="18" fill="#ff4500"/><rect x="246" y="132" width="1" height="40" fill="#32cd32"/><rect x="245" y="152" width="3" height="10" fill="#32cd32"/><rect x="250" y="140" width="1" height="27" fill="#ff0000"/><rect x="249" y="147" width="3" height="15" fill="#ff0000"/><rect x="250" y="148" width="1" height="13" fill="#ff4500"/><rect x="254" y="146" width="1" height="26" fill="#32cd32"/><rect x="253" y="147" width="3" height="15" fill="#32cd32"/><rect x="258" y="158" width="1" height="38" fill="#32cd32"/><rect x="257" y="158" width="3" height="28" fill="#32cd32"/><rect x="262" y="164" width="1" height="24" fill="#ff0000"/><rect x="261" y="172" width="3" height="14" fill="#ff0000"/><rect x="262" y="173" width="1" height="12" fill="#ff4500"/><rect x="266" y="147" width="1" height="29" fill="#ff0000"/><rect x="265" y="165" width="3" height="7" fill="#ff0000"/><rect x="266" y="166" width="1" height="5" fill="#ff4500"/><rect x="270" y="150" width="1" height="24" fill="#ff0000"/><rect x="269" y="152" width="3" height="14" fill="#ff0000"/><rect x="270" y="153" width="1" height="12" fill="#ff4500"/><rect x="274" y="137" width="1" height="53" fill="#32cd32"/><rect x="273" y="152" width="3" height="29" fill="#32cd32"/><rect x="278" y="170" width="1" height="15" fill="#ff0000"/><rect x="277" y="178" width="3" height="3" fill="#ff0000"/><rect x="278" y="179" width="1" height="1" fill="#ff4500"/><rect x="282" y="177" width="1" height="23" fill="#32cd32"/><rect x="281" y="180" width="3" height="9" fill="#32cd32"/><rect x="286" y="172" width="1" height="21" fill="#ff0000"/><rect x="285" y="180" width="3" height="9" fill="#ff0000"/><rect x="286" y="181" width="1" height="7" fill="#ff4500"/><rect x="290" y="156" width="1" height="32" fill="#ff0000"/><rect x="289" y="163" width="3" height="18" fill="#ff0000"/><rect x="290" y="164" width="1" height="16" fill="#ff4500"/><rect x="294" y="147" width="1" height="22" fill="#ff0000"/><rect x="293" y="155" width="3" height="10" fill="#ff0000"/><rect x="294" y="156" width="1" height="8" fill="#ff4500"/><rect x="298" y="152" width="1" height="30" fill="#32cd32"/><rect x="297" y="155" width="3" height="19" fill="#32cd32"/><rect x="302" y="170" width="1" height="8" fill="#32cd32"/><rect x="301" y="172" width="3" height="4" fill="#32cd32"/><rect x="306" y="162" width="1" height="19" fill="#32cd32"/><rect x="305" y="178" width="3" height="3" fill="#32cd32"/><rect x="310" y="159" width="1" height="36" fill="#ff0000"/><rect x="309" y="162" width="3" height="19" fill="#ff0000"/><rect x="310" y="163" width="1" height="17" fill="#ff4500"/><rect x="314" y="155" width="1" height="52" fill="#32cd32"/><rect x="313" y="162" width="3" height="26" fill="#32cd32"/><rect x="318" y="181" width="1" height="47" fill="#32cd32"/><rect x="317" y="187" width="3" height="8" fill="#32cd32"/><rect x="322" y="180" width="1" height="30" fill="#ff0000"/><rect x="321" y="193" width="3" height="2" fill="#ff0000"/><rect x="326" y="192" width="1" height="19" fill="#32cd32"/><rect x="325" y="193" width="3" height="15" fill="#32cd32"/><rect x="330" y="197" width="1" height="25" fill="#32cd32"/><rect x="329" y="212" width="3" height="5" fill="#32cd32"/><rect x="334" y="197" width="1" height="44" fill="#32cd32"/><rect x="333" y="216" width="3" height="17" fill="#32cd32"/><rect x="338" y="212" width="1" height="22" fill="#ff0000"/><rect x="337" y="218" width="3" height="15" fill="#ff0000"/><rect x="338" y="219" width="1" height="13" fill="#ff4500"/><rect x="342" y="203" width="1" height="26" fill="#32cd32"/><rect x="341" y="218" width="3" height="7" fill="#32cd32"/><rect x="346" y="199" width="1" height="32" fill="#ff0000"/><rect x="345" y="199" width="3" height="26" fill="#ff0000"/><rect x="346" y="200" width="1" height="24" fill="#ff4500"/><rect x="350" y="194" width="1" height="8" fill="#ff0000"/><rect x="349" y="195" width="3" height="5" fill="#ff0000"/><rect x="350" y="196" width="1" height="3" fill="#ff4500"/><rect x="354" y="175" width="1" height="28" fill="#ff0000"/><rect x="353" y="177" width="3" height="18" fill="#ff0000"/><rect x="354" y="178" width="1" height="16" fill="#ff4500"/><rect x="358" y="166" width="1" height="19" fill="#ff0000"/><rect x="357" y="172" width="3" height="6" fill="#ff0000"/><rect x="358" y="173" width="1" height="4" fill="#ff4500"/><rect x="362" y="158" width="1" height="19" fill="#ff0000"/><rect x="361" y="168" width="3" height="4" fill="#ff0000"/><rect x="362" y="169" width="1" height="2" fill="#ff4500"/><rect x="366" y="151" width="1" height="26" fill="#ff0000"/><rect x="365" y="156" width="3" height="13" fill="#ff0000"/><rect x="366" y="157" width="1" height="11" fill="#ff4500"/><rect x="370" y="156" width="1" height="19" fill="#32cd32"/><rect x="369" y="156" width="3" height="5" fill="#32cd32"/><rect x="374" y="154" width="1" height="9" fill="#ff0000"/><rect x="373" y="158" width="3" height="3" fill="#ff0000"/><rect x="374" y="159" width="1" height="1" fill="#ff4500"/><rect x="378" y="145" width="1" height="13" fill="#ff0000"/><rect x="377" y="147" width="3" height="11" fill="#ff0000"/><rect x="378" y="148" width="1" height="9" fill="#ff4500"/><rect x="382" y="137" width="1" height="27" fill="#32cd32"/><rect x="381" y="147" width="3" height="5" fill="#32cd32"/><rect x="386" y="149" width="1" height="23" fill="#32cd32"/><rect x="385" y="150" width="3" height="18" fill="#32cd32"/><rect x="390" y="144" width="1" height="28" fill="#ff0000"/><rect x="389" y="164" width="3" height="4" fill="#ff0000"/><rect x="390" y="165" width="1" height="2" fill="#ff4500"/><rect x="394" y="111" width="1" height="57" fill="#ff0000"/><rect x="393" y="113" width="3" height="53" fill="#ff0000"/><rect x="394" y="114" width="1" height="51" fill="#ff4500"/><rect x="398" y="107" width="1" height="9" fill="#ff0000"/><rect x="397" y="112" width="3" height="2" fill="#ff0000"/><rect x="402" y="90" width="1" height="27" fill="#ff0000"/><rect x="401" y="96" width="3" height="15" fill="#ff0000"/><rect x="402" y="97" width="1" height="13" fill="#ff4500"/><rect x="406" y="83" width="1" height="24" fill="#ff0000"/><rect x="405" y="94" width="3" height="3" fill="#ff0000"/><rect x="406" y="95" width="1" height="1" fill="#ff4500"/><rect x="410" y="79" width="1" height="22" fill="#ff0000"/><rect x="409" y="90" width="3" height="5" fill="#ff0000"/><rect x="410" y="91" width="1" height="3" fill="#ff4500"/><rect x="414" y="53" width="1" height="38" fill="#ff0000"/><rect x="413" y="74" width="3" height="17" fill="#ff0000"/><rect x="414" y="75" width="1" height="15" fill="#ff4500"/><rect x="418" y="72" width="1" height="97" fill="#32cd32"/><rect x="417" y="74" width="3" height="89" fill="#32cd32"/><rect x="422" y="159" width="1" height="21" fill="#32cd32"/><rect x="421" y="163" width="3" height="16" fill="#32cd32"/><rect x="426" y="145" width="1" height="33" fill="#ff0000"/><rect x="425" y="147" width="3" height="27" fill="#ff0000"/><rect x="426" y="148" width="1" height="25" fill="#ff4500"/><rect x="430" y="134" width="1" height="33" fill="#ff0000"/><rect x="429" y="134" width="3" height="14" fill="#ff0000"/><rect x="430" y="135" width="1" height="12" fill="#ff4500"/><rect x="434" y="124" width="1" height="29" fill="#32cd32"/><rect x="433" y="134" width="3" height="8" fill="#32cd32"/><rect x="438" y="133" width="1" height="28" fill="#ff0000"/><rect x="437" y="139" width="3" height="3" fill="#ff0000"/><rect x="438" y="140" width="1" height="1" fill="#ff4500"/><rect x="442" y="135" width="1" height="80" fill="#32cd32"/><rect x="441" y="140" width="3" height="58" fill="#32cd32"/><rect x="446" y="185" width="1" height="18" fill="#ff0000"/><rect x="445" y="186" width="3" height="12" fill="#ff0000"/><rect x="446" y="187" width="1" height="10" fill="#ff4500"/><rect x="450" y="172" width="1" height="37" fill="#32cd32"/><rect x="449" y="183" width="3" height="13" fill="#32cd32"/><rect x="454" y="173" width="1" height="42" fill="#ff0000"/><rect x="453" y="183" width="3" height="13" fill="#ff0000"/><rect x="454" y="184" width="1" height="11" fill="#ff4500"/><rect x="458" y="162" width="1" height="34" fill="#ff0000"/><rect x="457" y="176" width="3" height="7" fill="#ff0000"/><rect x="458" y="177" width="1" height="5" fill="#ff4500"/><rect x="462" y="146" width="1" height="35" fill="#ff0000"/><rect x="461" y="154" width="3" height="23" fill="#ff0000"/><rect x="462" y="155" width="1" height="21" fill="#ff4500"/><rect x="466" y="139" width="1" height="33" fill="#32cd32"/><rect x="465" y="154" width="3" height="8" fill="#32cd32"/><rect x="470" y="150" width="1" height="14" fill="#ff0000"/><rect x="469" y="157" width="3" height="5" fill="#ff0000"/><rect x="470" y="158" width="1" height="3" fill="#ff4500"/><rect x="474" y="150" width="1" height="30" fill="#32cd32"/><rect x="473" y="159" width="3" height="11" fill="#32cd32"/><rect x="478" y="156" width="1" height="23" fill="#ff0000"/><rect x="477" y="162" width="3" height="8" fill="#ff0000"/><rect x="478" y="163" width="1" height="6" fill="#ff4500"/><rect x="482" y="157" width="1" height="23" fill="#32cd32"/><rect x="481" y="162" width="3" height="18" fill="#32cd32"/><rect x="486" y="119" width="1" height="64" fill="#ff0000"/><rect x="485" y="142" width="3" height="37" fill="#ff0000"/><rect x="486" y="143" width="1" height="35" fill="#ff4500"/><rect x="490" y="138" width="1" height="37" fill="#32cd32"/><rect x="489" y="142" width="3" height="23" fill="#32cd32"/><rect x="494" y="158" width="1" height="7" fill="#ff0000"/><rect x="493" y="161" width="3" height="3" fill="#ff0000"/><rect x="494" y="162" width="1" height="1" fill="#ff4500"/><rect x="498" y="158" width="1" height="22" fill="#ff0000"/><rect x="497" y="161" width="3" height="11" fill="#ff0000"/><rect x="498" y="162" width="1" height="9" fill="#ff4500"/><rect x="502" y="158" width="1" height="43" fill="#32cd32"/><rect x="501" y="161" width="3" height="29" fill="#32cd32"/><rect x="506" y="189" width="1" height="42" fill="#32cd32"/><rect x="505" y="189" width="3" height="26" fill="#32cd32"/><rect x="510" y="212" width="1" height="28" fill="#32cd32"/><rect x="509" y="214" width="3" height="23" fill="#32cd32"/><rect x="514" y="208" width="1" height="29" fill="#ff0000"/><rect x="513" y="211" width="3" height="26" fill="#ff0000"/><rect x="514" y="212" width="1" height="24" fill="#ff4500"/><rect x="518" y="209" width="1" height="9" fill="#32cd32"/><rect x="517" y="211" width="3" height="4" fill="#32cd32"/><rect x="522" y="200" width="1" height="18" fill="#ff0000"/><rect x="521" y="205" width="3" height="3" fill="#ff0000"/><rect x="522" y="206" width="1" height="1" fill="#ff4500"/><rect x="526" y="197" width="1" height="29" fill="#32cd32"/><rect x="525" y="205" width="3" height="16" fill="#32cd32"/><rect x="530" y="208" width="1" height="23" fill="#ff0000"/><rect x="529" y="218" width="3" height="4" fill="#ff0000"/><rect x="530" y="219" width="1" height="2" fill="#ff4500"/><rect x="534" y="215" width="1" height="38" fill="#32cd32"/><rect x="533" y="218" width="3" height="5" fill="#32cd32"/><rect x="538" y="215" width="1" height="9" fill="#ff0000"/><rect x="537" y="217" width="3" height="6" fill="#ff0000"/><rect x="538" y="218" width="1" height="4" fill="#ff4500"/><rect x="542" y="222" width="1" height="4" fill="#32cd32"/><rect x="541" y="224" width="3" height="1" fill="#32cd32"/><rect x="546" y="198" width="1" height="27" fill="#ff0000"/><rect x="545" y="200" width="3" height="20" fill="#ff0000"/><rect x="546" y="201" width="1" height="18" fill="#ff4500"/><rect x="550" y="197" width="1" height="26" fill="#ff0000"/><rect x="549" y="199" width="3" height="2" fill="#ff0000"/><rect x="554" y="191" width="1" height="28" fill="#32cd32"/><rect x="553" y="199" width="3" height="15" fill="#32cd32"/><rect x="558" y="203" width="1" height="21" fill="#ff0000"/><rect x="557" y="207" width="3" height="7" fill="#ff0000"/><rect x="558" y="208" width="1" height="5" fill="#ff4500"/><rect x="562" y="198" width="1" height="31" fill="#32cd32"/><rect x="561" y="207" width="3" height="4" fill="#32cd32"/><rect x="566" y="210" width="1" height="5" fill="#32cd32"/><rect x="565" y="211" width="3" height="3" fill="#32cd32"/><rect x="570" y="208" width="1" height="19" fill="#32cd32"/><rect x="569" y="214" width="3" height="2" fill="#32cd32"/><rect x="574" y="210" width="1" height="21" fill="#ff0000"/><rect x="573" y="212" width="3" height="4" fill="#ff0000"/><rect x="574" y="213" width="1" height="2" fill="#ff4500"/><rect x="578" y="168" width="1" height="45" fill="#ff0000"/><rect x="577" y="169" width="3" height="44" fill="#ff0000"/><rect x="578" y="170" width="1" height="42" fill="#ff4500"/><rect x="582" y="156" width="1" height="25" fill="#ff0000"/><rect x="581" y="163" width="3" height="7" fill="#ff0000"/><rect x="582" y="164" width="1" height="5" fill="#ff4500"/><rect x="586" y="157" width="1" height="15" fill="#32cd32"/><rect x="585" y="162" width="3" height="6" fill="#32cd32"/><rect x="590" y="166" width="1" height="4" fill="#32cd32"/><rect x="589" y="168" width="3" height="1" fill="#32cd32"/><rect x="594" y="146" width="1" height="35" fill="#ff0000"/><rect x="593" y="157" width="3" height="15" fill="#ff0000"/><rect x="594" y="158" width="1" height="13" fill="#ff4500"/><rect x="598" y="133" width="1" height="38" fill="#32cd32"/><rect x="597" y="157" width="3" height="8" fill="#32cd32"/><rect x="602" y="155" width="1" height="28" fill="#ff0000"/><rect x="601" y="159" width="3" height="6" fill="#ff0000"/><rect x="602" y="160" width="1" height="4" fill="#ff4500"/><rect x="606" y="154" width="1" height="24" fill="#32cd32"/><rect x="605" y="159" width="3" height="13" fill="#32cd32"/><rect x="610" y="163" width="1" height="23" fill="#ff0000"/><rect x="609" y="166" width="3" height="6" fill="#ff0000"/><rect x="610" y="167" width="1" height="4" fill="#ff4500"/><rect x="614" y="157" width="1" height="12" fill="#ff0000"/><rect x="613" y="158" width="3" height="9" fill="#ff0000"/><rect x="614" y="159" width="1" height="7" fill="#ff4500"/><rect x="618" y="133" width="1" height="32" fill="#ff0000"/><rect x="617" y="139" width="3" height="25" fill="#ff0000"/><rect x="618" y="140" width="1" height="23" fill="#ff4500"/><rect x="622" y="137" width="1" height="19" fill="#32cd32"/><rect x="621" y="139" width="3" height="12" fill="#32cd32"/><rect x="626" y="150" width="1" height="22" fill="#32cd32"/><rect x="625" y="150" width="3" height="4" fill="#32cd32"/><rect x="630" y="132" width="1" height="29" fill="#32cd32"/><rect x="629" y="153" width="3" height="6" fill="#32cd32"/><rect x="634" y="146" width="1" height="35" fill="#32cd32"/><rect x="633" y="157" width="3" height="20" fill="#32cd32"/><rect x="638" y="175" width="1" height="6" fill="#32cd32"/><rect x="637" y="175" width="3" height="6" fill="#32cd32"/><rect x="642" y="154" width="1" height="26" fill="#ff0000"/><rect x="641" y="157" width="3" height="19" fill="#ff0000"/><rect x="642" y="158" width="1" height="17" fill="#ff4500"/><rect x="646" y="153" width="1" height="40" fill="#32cd32"/><rect x="645" y="157" width="3" height="30" fill="#32cd32"/><rect x="650" y="159" width="1" height="29" fill="#ff0000"/><rect x="649" y="161" width="3" height="26" fill="#ff0000"/><rect x="650" y="162" width="1" height="24" fill="#ff4500"/><rect x="654" y="150" width="1" height="32" fill="#ff0000"/><rect x="653" y="154" width="3" height="8" fill="#ff0000"/><rect x="654" y="155" width="1" height="6" fill="#ff4500"/><rect x="658" y="114" width="1" height="43" fill="#ff0000"/><rect x="657" y="114" width="3" height="41" fill="#ff0000"/><rect x="658" y="115" width="1" height="39" fill="#ff4500"/><rect x="662" y="114" width="1" height="11" fill="#32cd32"/><rect x="661" y="114" width="3" height="7" fill="#32cd32"/><rect x="666" y="101" width="1" height="24" fill="#ff0000"/><rect x="665" y="108" width="3" height="10" fill="#ff0000"/><rect x="666" y="109" width="1" height="8" fill="#ff4500"/><rect x="670" y="108" width="1" height="24" fill="#32cd32"/><rect x="669" y="108" width="3" height="15" fill="#32cd32"/><rect x="674" y="119" width="1" height="50" fill="#32cd32"/><rect x="673" y="122" width="3" height="46" fill="#32cd32"/><rect x="678" y="162" width="1" height="25" fill="#32cd32"/><rect x="677" y="167" width="3" height="6" fill="#32cd32"/><rect x="682" y="147" width="1" height="32" fill="#ff0000"/><rect x="681" y="149" width="3" height="24" fill="#ff0000"/><rect x="682" y="150" width="1" height="22" fill="#ff4500"/><rect x="686" y="145" width="1" height="7" fill="#ff0000"/><rect x="685" y="145" width="3" height="6" fill="#ff0000"/><rect x="686" y="146" width="1" height="4" fill="#ff4500"/><rect x="690" y="147" width="1" height="24" fill="#32cd32"/><rect x="689" y="149" width="3" height="6" fill="#32cd32"/><rect x="694" y="134" width="1" height="23" fill="#ff0000"/><rect x="693" y="147" width="3" height="8" fill="#ff0000"/><rect x="694" y="148" width="1" height="6" fill="#ff4500"/><rect x="698" y="137" width="1" height="32" fill="#32cd32"/><rect x="697" y="147" width="3" height="13" fill="#32cd32"/><rect x="702" y="147" width="1" height="32" fill="#ff0000"/><rect x="701" y="149" width="3" height="11" fill="#ff0000"/><rect x="702" y="150" width="1" height="9" fill="#ff4500"/><rect x="706" y="147" width="1" height="23" fill="#32cd32"/><rect x="705" y="149" width="3" height="21" fill="#32cd32"/><rect x="710" y="167" width="1" height="7" fill="#ff0000"/><rect x="709" y="168" width="3" height="3" fill="#ff0000"/><rect x="710" y="169" width="1" height="1" fill="#ff4500"/><rect x="714" y="158" width="1" height="22" fill="#ff0000"/><rect x="713" y="165" width="3" height="7" fill="#ff0000"/><rect x="714" y="166" width="1" height="5" fill="#ff4500"/><rect x="718" y="150" width="1" height="17" fill="#ff0000"/><rect x="717" y="164" width="3" height="2" fill="#ff0000"/><rect x="722" y="141" width="1" height="28" fill="#ff0000"/><rect x="721" y="163" width="3" height="3" fill="#ff0000"/><rect x="722" y="164" width="1" height="1" fill="#ff4500"/><rect x="726" y="157" width="1" height="16" fill="#32cd32"/><rect x="725" y="163" width="3" height="4" fill="#32cd32"/><rect x="730" y="162" width="1" height="30" fill="#32cd32"/><rect x="729" y="166" width="3" height="14" fill="#32cd32"/><rect x="734" y="175" width="1" height="6" fill="#ff0000"/><rect x="733" y="178" width="3" height="2" fill="#ff0000"/><rect x="738" y="164" width="1" height="18" fill="#ff0000"/><rect x="737" y="165" width="3" height="13" fill="#ff0000"/><rect x="738" y="166" width="1" height="11" fill="#ff4500"/><rect x="742" y="152" width="1" height="18" fill="#ff0000"/><rect x="741" y="155" width="3" height="11" fill="#ff0000"/><rect x="742" y="156" width="1" height="9" fill="#ff4500"/><rect x="746" y="151" width="1" height="25" fill="#32cd32"/><rect x="745" y="155" width="3" height="6" fill="#32cd32"/><rect x="750" y="158" width="1" height="46" fill="#32cd32"/><rect x="749" y="160" width="3" height="43" fill="#32cd32"/><rect x="754" y="163" width="1" height="43" fill="#ff0000"/><rect x="753" y="164" width="3" height="39" fill="#ff0000"/><rect x="754" y="165" width="1" height="37" fill="#ff4500"/><rect x="758" y="163" width="1" height="4" fill="#ff0000"/><rect x="757" y="163" width="3" height="2" fill="#ff0000"/><rect x="762" y="154" width="1" height="18" fill="#ff0000"/><rect x="761" y="155" width="3" height="11" fill="#ff0000"/><rect x="762" y="156" width="1" height="9" fill="#ff4500"/><rect x="766" y="154" width="1" height="15" fill="#32cd32"/><rect x="765" y="154" width="3" height="12" fill="#32cd32"/><rect x="770" y="155" width="1" height="17" fill="#32cd32"/><rect x="769" y="165" width="3" height="6" fill="#32cd32"/><rect x="774" y="155" width="1" height="20" fill="#ff0000"/><rect x="773" y="160" width="3" height="10" fill="#ff0000"/><rect x="774" y="161" width="1" height="8" fill="#ff4500"/><rect x="778" y="150" width="1" height="37" fill="#32cd32"/><rect x="777" y="160" width="3" height="24" fill="#32cd32"/><rect x="782" y="180" width="1" height="7" fill="#ff0000"/><rect x="781" y="180" width="3" height="4" fill="#ff0000"/><rect x="782" y="181" width="1" height="2" fill="#ff4500"/><rect x="786" y="173" width="1" height="12" fill="#ff0000"/><rect x="785" y="175" width="3" height="4" fill="#ff0000"/><rect x="786" y="176" width="1" height="2" fill="#ff4500"/><rect x="790" y="174" width="1" height="19" fill="#32cd32"/><rect x="789" y="174" width="3" height="19" fill="#32cd32"/><rect x="794" y="175" width="1" height="18" fill="#ff0000"/><rect x="793" y="177" width="3" height="16" fill="#ff0000"/><rect x="794" y="178" width="1" height="14" fill="#ff4500"/><rect x="798" y="174" width="1" height="71" fill="#32cd32"/><rect x="797" y="176" width="3" height="67" fill="#32cd32"/><rect x="802" y="240" width="1" height="36" fill="#32cd32"/><rect x="801" y="242" width="3" height="25" fill="#32cd32"/><rect x="806" y="261" width="1" height="10" fill="#ff0000"/><rect x="805" y="266" width="3" height="2" fill="#ff0000"/><rect x="810" y="250" width="1" height="27" fill="#ff0000"/><rect x="809" y="254" width="3" height="12" fill="#ff0000"/><rect x="810" y="255" width="1" height="10" fill="#ff4500"/><rect x="814" y="246" width="1" height="24" fill="#32cd32"/><rect x="813" y="254" width="3" height="2" fill="#32cd32"/><rect x="818" y="224" width="1" height="32" fill="#ff0000"/><rect x="817" y="228" width="3" height="28" fill="#ff0000"/><rect x="818" y="229" width="1" height="26" fill="#ff4500"/><rect x="822" y="227" width="1" height="12" fill="#32cd32"/><rect x="821" y="228" width="3" height="7" fill="#32cd32"/><rect x="826" y="216" width="1" height="19" fill="#ff0000"/><rect x="825" y="226" width="3" height="9" fill="#ff0000"/><rect x="826" y="227" width="1" height="7" fill="#ff4500"/><rect x="830" y="225" width="1" height="7" fill="#32cd32"/><rect x="829" y="226" width="3" height="4" fill="#32cd32"/><rect x="834" y="223" width="1" height="20" fill="#32cd32"/><rect x="833" y="229" width="3" height="7" fill="#32cd32"/><rect x="838" y="232" width="1" height="31" fill="#32cd32"/><rect x="837" y="235" width="3" height="24" fill="#32cd32"/><rect x="842" y="254" width="1" height="17" fill="#32cd32"/><rect x="841" y="258" width="3" height="11" fill="#32cd32"/><rect x="846" y="262" width="1" height="21" fill="#32cd32"/><rect x="845" y="267" width="3" height="11" fill="#32cd32"/><rect x="850" y="265" width="1" height="26" fill="#ff0000"/><rect x="849" y="266" width="3" height="12" fill="#ff0000"/><rect x="850" y="267" width="1" height="10" fill="#ff4500"/><rect x="854" y="251" width="1" height="19" fill="#ff0000"/><rect x="853" y="253" width="3" height="14" fill="#ff0000"/><rect x="854" y="254" width="1" height="12" fill="#ff4500"/><rect x="858" y="250" width="1" height="14" fill="#ff0000"/><rect x="857" y="252" width="3" height="6" fill="#ff0000"/><rect x="858" y="253" width="1" height="4" fill="#ff4500"/><rect x="862" y="224" width="1" height="48" fill="#32cd32"/><rect x="861" y="252" width="3" height="15" fill="#32cd32"/><rect x="866" y="252" width="1" height="31" fill="#32cd32"/><rect x="865" y="266" width="3" height="7" fill="#32cd32"/><rect x="870" y="262" width="1" height="39" fill="#32cd32"/><rect x="869" y="272" width="3" height="21" fill="#32cd32"/><rect x="874" y="270" width="1" height="35" fill="#ff0000"/><rect x="873" y="274" width="3" height="19" fill="#ff0000"/><rect x="874" y="275" width="1" height="17" fill="#ff4500"/><rect x="878" y="269" width="1" height="7" fill="#ff0000"/><rect x="877" y="269" width="3" height="7" fill="#ff0000"/><rect x="878" y="270" width="1" height="5" fill="#ff4500"/><rect x="882" y="267" width="1" height="22" fill="#ff0000"/><rect x="881" y="270" width="3" height="2" fill="#ff0000"/><rect x="886" y="264" width="1" height="34" fill="#32cd32"/><rect x="885" y="270" width="3" height="8" fill="#32cd32"/><rect x="890" y="271" width="1" height="25" fill="#32cd32"/><rect x="889" y="277" width="3" height="3" fill="#32cd32"/><rect x="894" y="271" width="1" height="23" fill="#32cd32"/><rect x="893" y="279" width="3" height="15" fill="#32cd32"/><rect x="898" y="289" width="1" height="20" fill="#32cd32"/><rect x="897" y="293" width="3" height="11" fill="#32cd32"/><rect x="902" y="300" width="1" height="8" fill="#32cd32"/><rect x="901" y="303" width="3" height="5" fill="#32cd32"/><rect x="906" y="309" width="1" height="29" fill="#32cd32"/><rect x="905" y="311" width="3" height="21" fill="#32cd32"/><rect x="910" y="325" width="1" height="25" fill="#32cd32"/><rect x="909" y="331" width="3" height="9" fill="#32cd32"/><rect x="914" y="324" width="1" height="31" fill="#ff0000"/><rect x="913" y="326" width="3" height="14" fill="#ff0000"/><rect x="914" y="327" width="1" height="12" fill="#ff4500"/><rect x="918" y="308" width="1" height="25" fill="#ff0000"/><rect x="917" y="322" width="3" height="5" fill="#ff0000"/><rect x="918" y="323" width="1" height="3" fill="#ff4500"/><rect x="922" y="311" width="1" height="15" fill="#32cd32"/><rect x="921" y="322" width="3" height="2" fill="#32cd32"/><rect x="926" y="319" width="1" height="5" fill="#ff0000"/><rect x="925" y="322" width="3" height="2" fill="#ff0000"/><line x1="7" y1="605.5" x2="1168" y2="605.5" stroke="#c0c0c0" stroke-width="1" stroke-dasharray="3,3"/><line x1="7" y1="639.5" x2="1168" y2="639.5" stroke="#c0c0c0" stroke-width="1" stroke-dasharray="3,3"/><rect x="5" y="30" width="1164" height="1" fill="#000"/><rect x="5" y="490" width="1164" height="1" fill="#000"/><rect x="5" y="30" width="1" height="461" fill="#000"/><rect x="1168" y="30" width="1" height="461" fill="#000"/><rect x="5" y="492" width="1164" height="1" fill="#000"/><rect x="5" y="576" width="1164" height="1" fill="#000"/><rect x="5" y="492" width="1" height="85" fill="#000"/><rect x="1168" y="492" width="1" height="85" fill="#000"/><rect x="5" y="578" width="1164" height="1" fill="#000"/><rect x="5" y="665" width="1164" height="1" fill="#000"/><rect x="5" y="578" width="1" height="88" fill="#000"/><rect x="1168" y="578" width="1" height="88" fill="#000"/><rect x="1169" y="58" width="2" height="1" fill="#000"/><rect x="1169" y="91" width="2" height="1" fill="#000"/><rect x="1169" y="124" width="2" height="1" fill="#000"/><rect x="1169" y="157" width="2" height="1" fill="#000"/><rect x="1169" y="190" width="2" height="1" fill="#000"/><rect x="1169" y="223" width="2" height="1" fill="#000"/><rect x="1169" y="256" width="2" height="1" fill="#000"/><rect x="1169" y="289" width="2" height="1" fill="#000"/><rect x="1169" y="322" width="2" height="1" fill="#000"/><rect x="1169" y="355" width="2" height="1" fill="#000"/><rect x="1169" y="388" width="2" height="1" fill="#000"/><rect x="1169" y="421" width="2" height="1" fill="#000"/><rect x="1169" y="454" width="2" height="1" fill="#000"/><rect x="1169" y="487" width="2" height="1" fill="#000"/><rect x="1169" y="494" width="1" height="1" fill="#000"/><rect x="1169" y="539" width="1" height="1" fill="#000"/><rect x="1169" y="575" width="1" height="1" fill="#000"/><rect x="1169" y="580" width="1" height="1" fill="#000"/><rect x="1169" y="664" width="1" height="1" fill="#000"/><rect x="6" y="666" width="1" height="3" fill="#000"/><rect x="70" y="666" width="1" height="3" fill="#000"/><rect x="134" y="666" width="1" height="3" fill="#000"/><rect x="198" y="666" width="1" height="3" fill="#000"/><rect x="262" y="666" width="1" height="3" fill="#000"/><rect x="326" y="666" width="1" height="3" fill="#000"/><rect x="390" y="666" width="1" height="3" fill="#000"/><rect x="454" y="666" width="1" height="3" fill="#000"/><rect x="518" y="666" width="1" height="3" fill="#000"/><rect x="582" y="666" width="1" height="3" fill="#000"/><rect x="646" y="666" width="1" height="3" fill="#000"/><rect x="710" y="666" width="1" height="3" fill="#000"/><rect x="774" y="666" width="1" height="3" fill="#000"/><rect x="838" y="666" width="1" height="3" fill="#000"/><rect x="902" y="666" width="1" height="3" fill="#000"/><rect x="1170" y="166" width="38" height="11" fill="#ff0000"/><rect x="1170" y="229" width="38" height="11" fill="#ff0000"/><rect x="1170" y="300" width="38" height="11" fill="#00ff00"/><rect x="1170" y="368" width="38" height="11" fill="#0000ff"/><rect x="1170" y="435" width="38" height="11" fill="#0000ff"/><rect x="1170" y="317" width="38" height="11" fill="#000"/></g>
<g id="labels" stroke="#000" stroke-width="0.2"><text x="1174" y="62" font-size="9.8" textLength="33" lengthAdjust="spacingAndGlyphs">0.79940</text><text x="1174" y="95" font-size="9.8" textLength="33" lengthAdjust="spacingAndGlyphs">0.79140</text><text x="1174" y="128" font-size="9.8" textLength="33" lengthAdjust="spacingAndGlyphs">0.78360</text><text x="1174" y="161" font-size="9.8" textLength="33" lengthAdjust="spacingAndGlyphs">0.77580</text><text x="1174" y="194" font-size="9.8" textLength="33" lengthAdjust="spacingAndGlyphs">0.76780</text><text x="1174" y="227" font-size="9.8" textLength="33" lengthAdjust="spacingAndGlyphs">0.76000</text><text x="1174" y="260" font-size="9.8" textLength="33" lengthAdjust="spacingAndGlyphs">0.75220</text><text x="1174" y="293" font-size="9.8" textLength="33" lengthAdjust="spacingAndGlyphs">0.74420</text><text x="1174" y="359" font-size="9.8" textLength="33" lengthAdjust="spacingAndGlyphs">0.72840</text><text x="1174" y="392" font-size="9.8" textLength="33" lengthAdjust="spacingAndGlyphs">0.72060</text><text x="1174" y="425" font-size="9.8" textLength="33" lengthAdjust="spacingAndGlyphs">0.71280</text><text x="1174" y="458" font-size="9.8" textLength="33" lengthAdjust="spacingAndGlyphs">0.70480</text><text x="1174" y="491" font-size="9.8" textLength="33" lengthAdjust="spacingAndGlyphs">0.69700</text><text x="1174" y="175" font-size="9.8" fill="#fff" textLength="33" lengthAdjust="spacingAndGlyphs" stroke="#fff">0.77212</text><text x="1174" y="238" font-size="9.8" fill="#fff" textLength="33" lengthAdjust="spacingAndGlyphs" stroke="#fff">0.75712</text><text x="1174" y="309" font-size="9.8" fill="#fff" textLength="33" lengthAdjust="spacingAndGlyphs" stroke="#fff">0.74022</text><text x="1174" y="377" font-size="9.8" fill="#fff" textLength="33" lengthAdjust="spacingAndGlyphs" stroke="#fff">0.72402</text><text x="1174" y="444" font-size="9.8" fill="#fff" textLength="33" lengthAdjust="spacingAndGlyphs" stroke="#fff">0.70807</text><text x="1174" y="326" font-size="9.8" fill="#fff" textLength="33" lengthAdjust="spacingAndGlyphs" stroke="#fff">0.73634</text><text x="1172.2" y="503" font-size="9.8" textLength="38" lengthAdjust="spacingAndGlyphs">0.008903</text><text x="1172.2" y="543" font-size="9.8" textLength="17.4" lengthAdjust="spacingAndGlyphs">0.00</text><text x="1172.2" y="573" font-size="9.8" textLength="36.5" lengthAdjust="spacingAndGlyphs">-0.00697</text><text x="1172.2" y="589" font-size="9.8" textLength="14.5" lengthAdjust="spacingAndGlyphs">100</text><text x="1171.4" y="609" font-size="9.8" textLength="9.8" lengthAdjust="spacingAndGlyphs">70</text><text x="1171.4" y="643" font-size="9.8" textLength="9.8" lengthAdjust="spacingAndGlyphs">30</text><text x="1172.2" y="662" font-size="9.8" textLength="4.9" lengthAdjust="spacingAndGlyphs">0</text><text x="5.3" y="678" font-size="9.8" textLength="50.7" lengthAdjust="spacingAndGlyphs">27 Oct 2020</text><text x="69.3" y="678" font-size="9.8" textLength="53.3" lengthAdjust="spacingAndGlyphs">14 Nov 2020</text><text x="133.3" y="678" font-size="9.8" textLength="46.3" lengthAdjust="spacingAndGlyphs">3 Dec 2020</text><text x="197.3" y="678" font-size="9.8" textLength="51.5" lengthAdjust="spacingAndGlyphs">22 Dec 2020</text><text x="261.3" y="678" font-size="9.8" textLength="48.5" lengthAdjust="spacingAndGlyphs">12 Jan 2021</text><text x="325.3" y="678" font-size="9.8" textLength="48.7" lengthAdjust="spacingAndGlyphs">30 Jan 2021</text><text x="389.3" y="678" font-size="9.8" textLength="50.6" lengthAdjust="spacingAndGlyphs">18 Feb 2021</text><text x="453.3" y="678" font-size="9.8" textLength="46.3" lengthAdjust="spacingAndGlyphs">9 Mar 2021</text><text x="517.3" y="678" font-size="9.8" textLength="50.8" lengthAdjust="spacingAndGlyphs">27 Mar 2021</text><text x="581.3" y="678" font-size="9.8" textLength="49.5" lengthAdjust="spacingAndGlyphs">15 Apr 2021</text><text x="645.3" y="678" font-size="9.8" textLength="49.4" lengthAdjust="spacingAndGlyphs">4 May 2021</text><text x="709.3" y="678" font-size="9.8" textLength="53.8" lengthAdjust="spacingAndGlyphs">22 May 2021</text><text x="773.3" y="678" font-size="9.8" textLength="48.9" lengthAdjust="spacingAndGlyphs">10 Jun 2021</text><text x="837.3" y="678" font-size="9.8" textLength="49.1" lengthAdjust="spacingAndGlyphs">29 Jun 2021</text><text x="901.3" y="678" font-size="9.8" textLength="46.1" lengthAdjust="spacingAndGlyphs">17 Jul 2021</text><text x="21.8" y="42" font-size="9.8" textLength="64.8" lengthAdjust="spacingAndGlyphs">AUDUSD,Daily</text><text x="93" y="42" font-size="9.8" textLength="32.3" lengthAdjust="spacingAndGlyphs">0.73622</text><text x="129.1" y="42" font-size="9.8" textLength="32.3" lengthAdjust="spacingAndGlyphs">0.73719</text><text x="165.2" y="42" font-size="9.8" textLength="32.3" lengthAdjust="spacingAndGlyphs">0.73622</text><text x="201.2" y="42" font-size="9.8" textLength="32.3" lengthAdjust="spacingAndGlyphs">0.73634</text><text x="10.5" y="505" font-size="9.8" textLength="65.3" lengthAdjust="spacingAndGlyphs">MACD(12,26,9)</text><text x="79.5" y="505" font-size="9.8" textLength="40" lengthAdjust="spacingAndGlyphs">-0.005920</text><text x="123.3" y="505" font-size="9.8" textLength="40.4" lengthAdjust="spacingAndGlyphs">-0.005638</text><text x="10.5" y="591" font-size="9.8" textLength="30.8" lengthAdjust="spacingAndGlyphs">RSI(14)</text><text x="45.2" y="591" font-size="9.8" textLength="32.7" lengthAdjust="spacingAndGlyphs">33.3946</text></g>
<path d="M9 41h7l-3.5 -4z" fill="#000"/>
<g id="trade"><g shape-rendering="crispEdges"><rect x="9" y="50" width="52" height="25" fill="url(#gb)"/><rect x="177" y="50" width="51" height="25" fill="url(#gb)"/><rect x="9" y="74" width="109" height="33" fill="url(#gp)"/><rect x="120" y="74" width="108" height="33" fill="url(#gp)"/><rect x="9" y="50" width="52" height="1" fill="#3030d0"/><rect x="177" y="50" width="51" height="1" fill="#3030d0"/><rect x="9" y="50" width="1" height="57" fill="#2828c8"/><rect x="227" y="50" width="1" height="57" fill="#2828c8"/><rect x="9" y="106" width="109" height="1" fill="#000090"/><rect x="120" y="106" width="108" height="1" fill="#000090"/><rect x="61" y="50" width="116" height="24" fill="#fff"/><rect x="13" y="73" width="44" height="1" fill="#8c8cf8"/><rect x="180" y="73" width="44" height="1" fill="#8c8cf8"/><rect x="63.5" y="50.5" width="110" height="21" fill="#fff" stroke="#b0b0b0"/><rect x="65" y="52" width="19" height="18" fill="url(#gs)"/><rect x="84" y="51" width="1" height="20" fill="#b0b0b0"/><rect x="153" y="52" width="20" height="18" fill="url(#gs)"/><rect x="152" y="51" width="1" height="20" fill="#b0b0b0"/></g><path d="M71.5 59h5.4l-2.7 3.2z" fill="#3c50b4"/><path d="M160 62.2h5.4l-2.7 -3.2z" fill="#3c50b4"/><text x="21.6" y="65.2" font-size="11.8" fill="#fff" textLength="25.2" lengthAdjust="spacingAndGlyphs">SELL</text><text x="189.7" y="65.2" font-size="11.8" fill="#fff" textLength="23.7" lengthAdjust="spacingAndGlyphs">BUY</text><text x="125.5" y="64.8" font-size="11.6" textLength="23.2" lengthAdjust="spacingAndGlyphs">3.00</text><text x="29" y="101.6" font-size="11.6" fill="#fff" font-weight="bold" textLength="23.6" lengthAdjust="spacingAndGlyphs">0.73</text><text x="139.2" y="101.6" font-size="11.6" fill="#fff" font-weight="bold" textLength="23.6" lengthAdjust="spacingAndGlyphs">0.73</text><text x="57.4" y="102.1" font-size="34.3" fill="#fff" textLength="33.2" lengthAdjust="spacingAndGlyphs">63</text><text x="168.4" y="102.1" font-size="34.3" fill="#fff" textLength="33.2" lengthAdjust="spacingAndGlyphs">65</text><text x="96.8" y="85.9" font-size="10.8" fill="#fff" font-weight="bold" textLength="5.8" lengthAdjust="spacingAndGlyphs">7</text><text x="207.1" y="85.9" font-size="10.8" fill="#fff" font-weight="bold" textLength="7.2" lengthAdjust="spacingAndGlyphs">0</text></g>
<g id="tabbar" shape-rendering="crispEdges"><rect x="99" y="687" width="104" height="20" fill="#fff"/><rect x="1" y="688" width="99" height="1" fill="#000"/><rect x="202" y="688" width="1006" height="1" fill="#000"/><rect x="203" y="689" width="1005" height="1" fill="#fbfbfb"/><rect x="3" y="689" width="96" height="1" fill="#fbfbfb"/><rect x="2" y="688" width="1" height="20" fill="#404040"/><rect x="0" y="707" width="3" height="1" fill="#404040"/><rect x="99" y="688" width="1" height="19" fill="#000"/><rect x="202" y="688" width="1" height="19" fill="#000"/><rect x="99" y="706" width="104" height="1" fill="#000"/><rect x="291" y="691" width="1" height="14" fill="#5a5a5a"/><rect x="395" y="691" width="1" height="14" fill="#5a5a5a"/><rect x="499" y="691" width="1" height="14" fill="#5a5a5a"/><rect x="575" y="691" width="1" height="14" fill="#5a5a5a"/><rect x="643" y="691" width="1" height="14" fill="#5a5a5a"/><rect x="719" y="691" width="1" height="14" fill="#5a5a5a"/><rect x="811" y="691" width="1" height="14" fill="#5a5a5a"/><rect x="903" y="691" width="1" height="14" fill="#5a5a5a"/><rect x="0" y="708" width="1208" height="1" fill="#fff"/><rect x="0" y="709" width="1208" height="2" fill="#f4f4f4"/><rect x="0" y="711" width="1208" height="2" fill="#b0b0b0"/></g><path d="M1187.3 693.5v7l-3.6 -3.5z" fill="#8c8c8c"/><path d="M1203 693.5v7l3.6 -3.5z" fill="#8c8c8c"/><text x="19.6" y="702.6" font-size="12" fill="#6c6c6c" textLength="66.9" lengthAdjust="spacingAndGlyphs">EURUSD,H4</text><text x="110.6" y="702.6" font-size="12" textLength="81.5" lengthAdjust="spacingAndGlyphs">AUDUSD,Daily</text><text x="213.6" y="702.6" font-size="12" fill="#6c6c6c" textLength="66.4" lengthAdjust="spacingAndGlyphs">USDCHF,H4</text><text x="302.6" y="702.6" font-size="12" fill="#6c6c6c" textLength="80.4" lengthAdjust="spacingAndGlyphs">USDCAD,Daily</text><text x="405.8" y="702.6" font-size="12" fill="#6c6c6c" textLength="81.9" lengthAdjust="spacingAndGlyphs">USDCNH,Daily</text><text x="511.3" y="702.6" font-size="12" fill="#6c6c6c" textLength="51" lengthAdjust="spacingAndGlyphs">UKOil,H1</text><text x="585.4" y="702.6" font-size="12" fill="#6c6c6c" textLength="45.7" lengthAdjust="spacingAndGlyphs">DJ30,H1</text><text x="655.5" y="702.6" font-size="12" fill="#6c6c6c" textLength="50.5" lengthAdjust="spacingAndGlyphs">USDX,H1</text><text x="730.5" y="702.6" font-size="12" fill="#6c6c6c" textLength="67.3" lengthAdjust="spacingAndGlyphs">XAUUSD,H1</text><text x="823.5" y="702.6" font-size="12" fill="#6c6c6c" textLength="67.2" lengthAdjust="spacingAndGlyphs">GBPUSD,H1</text>
</svg>
</body></html>
